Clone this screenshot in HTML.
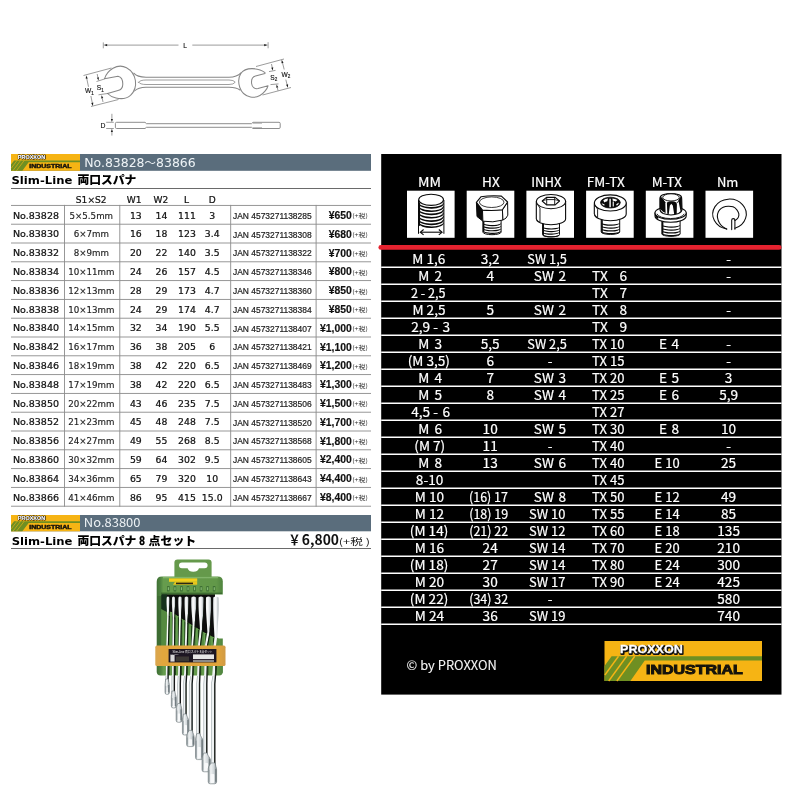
<!DOCTYPE html>
<html lang="ja"><head><meta charset="utf-8"><title>PROXXON Slim-Line 両口スパナ</title>
<style>html,body{margin:0;padding:0;background:#fff;width:800px;height:800px;overflow:hidden}svg{display:block;will-change:transform;filter:opacity(1)}text{white-space:pre}</style>
</head><body>
<svg width="800" height="800" viewBox="0 0 800 800">
<rect width="800" height="800" fill="#fff"/>
<g id="diagram">
<line x1="103.3" y1="42.4" x2="103.3" y2="48.3" stroke="#777" stroke-width="0.7"/>
<line x1="268.1" y1="42.2" x2="268.1" y2="48.3" stroke="#777" stroke-width="0.7"/>
<line x1="178.50" y1="45.10" x2="107.20" y2="45.10" stroke="#4a4a4a" stroke-width="0.55"/><path d="M103.60 45.10 L107.20 44.05 L107.20 46.15Z" fill="#1a1a1a"/>
<line x1="192.30" y1="45.10" x2="264.20" y2="45.10" stroke="#4a4a4a" stroke-width="0.55"/><path d="M267.80 45.10 L264.20 46.15 L264.20 44.05Z" fill="#1a1a1a"/>
<text x="185.2" y="47.5" font-size="6.6" font-family='"Liberation Sans", sans-serif' fill="#161616" stroke="#161616" stroke-width="0.15" text-anchor="middle">L</text>
<g fill="none" stroke="#878787" stroke-width="1.05" stroke-linejoin="round" stroke-linecap="round">
<path d="M104.5 78.8 C105.5 75.5 108.5 71 113 68.3 C117 66 122.5 65.6 126.5 67.8 C131 70.3 134.5 75 135.4 80.5 C136.2 86 134.5 91.5 130.5 95.3 C127 98.3 121 99.2 116 98 C112.5 97.2 109.5 95.6 107.5 93.5 L118 90.6 C120.5 90 122.8 87.5 122.8 84 C122.8 80 121 76.8 118 76.2 Z"/>
<path d="M265 72.6 C262 70.2 257 68.6 252 68.6 C247 68.6 243 70.2 240.8 73.5 C238.6 77 238.3 83 239.8 87.5 C241.5 92.5 245.5 96 250.5 97 C256 98 261.5 95.5 265 91.2 C266.5 89.5 267.6 87.5 268 85.8 L258 88.6 C254.5 89.3 252 87 251.6 83.5 C251.2 80 252.5 76.8 255.5 76 L265 73.6 Z"/>
<path d="M133.8 73.2 C136.5 76.5 140 77.2 146 77.2 H229 C234.5 77.1 238 76 241 72.8"/>
<path d="M134.5 91 C137 88.5 140 87.2 146 87.2 H229 C234 87.2 237.5 88 240 90"/>
<path d="M138.6 82.2 Q140 80 146 80 H229 Q233.8 80 235.2 82.2 Q233.8 84.5 229 84.5 H146 Q140 84.5 138.6 82.2 Z" stroke-width="0.8"/>
</g>
<line x1="83.5" y1="75.5" x2="111.5" y2="68" stroke="#4a4a4a" stroke-width="0.55"/>
<line x1="91" y1="106.5" x2="118.5" y2="99.5" stroke="#4a4a4a" stroke-width="0.55"/>
<line x1="88.50" y1="86.80" x2="86.78" y2="78.63" stroke="#4a4a4a" stroke-width="0.55"/><path d="M86.10 75.40 L87.81 78.41 L85.75 78.85Z" fill="#1a1a1a"/>
<line x1="90.90" y1="96.00" x2="92.25" y2="102.76" stroke="#4a4a4a" stroke-width="0.55"/><path d="M92.90 106.00 L91.22 102.97 L93.28 102.56Z" fill="#1a1a1a"/>
<line x1="96.5" y1="81.5" x2="104.5" y2="79" stroke="#4a4a4a" stroke-width="0.55"/>
<line x1="98.5" y1="94.8" x2="107.5" y2="93.5" stroke="#4a4a4a" stroke-width="0.55"/>
<line x1="97.20" y1="74.00" x2="97.90" y2="77.56" stroke="#4a4a4a" stroke-width="0.55"/><path d="M98.50 80.60 L96.87 77.76 L98.93 77.36Z" fill="#1a1a1a"/>
<line x1="103.00" y1="102.00" x2="102.23" y2="98.24" stroke="#4a4a4a" stroke-width="0.55"/><path d="M101.60 95.20 L103.25 98.02 L101.20 98.45Z" fill="#1a1a1a"/>
<text x="85" y="93.3" font-size="6.6" font-family='"Liberation Sans", sans-serif' fill="#161616" stroke="#161616" stroke-width="0.15">W<tspan font-size="4.6" dy="1.3">1</tspan></text>
<text x="96.8" y="90.4" font-size="6.6" font-family='"Liberation Sans", sans-serif' fill="#161616" stroke="#161616" stroke-width="0.15">S<tspan font-size="4.6" dy="1.3">1</tspan></text>
<line x1="256" y1="66.5" x2="284" y2="59" stroke="#4a4a4a" stroke-width="0.55"/>
<line x1="262.5" y1="95" x2="291" y2="87.5" stroke="#4a4a4a" stroke-width="0.55"/>
<line x1="284.20" y1="69.50" x2="282.52" y2="62.90" stroke="#4a4a4a" stroke-width="0.55"/><path d="M281.70 59.70 L283.53 62.64 L281.50 63.16Z" fill="#1a1a1a"/>
<line x1="285.80" y1="79.60" x2="287.08" y2="84.60" stroke="#4a4a4a" stroke-width="0.55"/><path d="M287.90 87.80 L286.06 84.86 L288.10 84.34Z" fill="#1a1a1a"/>
<line x1="269" y1="71.6" x2="275.5" y2="70.4" stroke="#4a4a4a" stroke-width="0.55"/>
<line x1="270.5" y1="84.6" x2="278.5" y2="83.9" stroke="#4a4a4a" stroke-width="0.55"/>
<line x1="271.50" y1="64.00" x2="272.20" y2="67.56" stroke="#4a4a4a" stroke-width="0.55"/><path d="M272.80 70.60 L271.17 67.76 L273.23 67.36Z" fill="#1a1a1a"/>
<line x1="278.00" y1="90.60" x2="277.28" y2="87.42" stroke="#4a4a4a" stroke-width="0.55"/><path d="M276.60 84.40 L278.31 87.19 L276.26 87.66Z" fill="#1a1a1a"/>
<text x="281.6" y="77" font-size="6.6" font-family='"Liberation Sans", sans-serif' fill="#161616" stroke="#161616" stroke-width="0.15">W<tspan font-size="4.6" dy="1.3">2</tspan></text>
<text x="270.3" y="79.6" font-size="6.6" font-family='"Liberation Sans", sans-serif' fill="#161616" stroke="#161616" stroke-width="0.15">S<tspan font-size="4.6" dy="1.3">2</tspan></text>
<g fill="none" stroke="#878787" stroke-width="0.95" stroke-linejoin="round">
<path d="M145 122.3 H116.6 Q115.4 122.3 115.4 123.5 V127.3 Q115.4 128.5 116.6 128.5 H145 L146.5 127.3 H251.5 L253 128.5 H279 Q280.2 128.5 280.2 127.3 V123.5 Q280.2 122.3 279 122.3 H253 L251.5 123.7 H146.5 Z"/>
<path d="M253 123.3 H262 M253 127.6 H262" stroke-width="0.6"/>
</g>
<line x1="106.2" y1="122.3" x2="113.8" y2="122.3" stroke="#4a4a4a" stroke-width="0.55"/>
<line x1="106.2" y1="128.5" x2="113.8" y2="128.5" stroke="#4a4a4a" stroke-width="0.55"/>
<line x1="111.90" y1="113.80" x2="111.90" y2="118.90" stroke="#4a4a4a" stroke-width="0.55"/><path d="M111.90 122.10 L110.85 118.90 L112.95 118.90Z" fill="#1a1a1a"/>
<line x1="111.90" y1="135.60" x2="111.90" y2="131.90" stroke="#4a4a4a" stroke-width="0.55"/><path d="M111.90 128.70 L112.95 131.90 L110.85 131.90Z" fill="#1a1a1a"/>
<text x="100.5" y="128.2" font-size="6.8" font-family='"Liberation Sans", sans-serif' fill="#161616" stroke="#161616" stroke-width="0.15">D</text>
</g>
<g id="left">
<rect x="11" y="154" width="360" height="16.8" fill="#5a6d7c"/>
<g transform="translate(11,154) scale(0.4381,0.4200)">
<rect x="0" y="0" width="157.5" height="40" fill="#f6b414"/>
<path d="M7.1 15.25 H157.5 V19.6 H40.25 L25.9 40 H0 V25.1 Z" fill="#6f8f22"/>
<path d="M14.0 15.25 L0.4 34.0" stroke="#f6b414" stroke-width="1.4" fill="none"/>
<path d="M22.1 15.25 L4.2 40" stroke="#f6b414" stroke-width="1.4" fill="none"/>
<path d="M30.25 15.25 L12.35 40" stroke="#f6b414" stroke-width="1.4" fill="none"/>
<text x="15.6" y="12.3" font-size="11.6" font-family='"Liberation Sans", sans-serif' font-weight="bold" fill="#111" stroke="#111" stroke-width="2.2" stroke-linejoin="round" textLength="62.6" lengthAdjust="spacingAndGlyphs" transform="translate(0.6,0.6)">PROXXON</text>
<text x="15.6" y="12.3" font-size="11.6" font-family='"Liberation Sans", sans-serif' font-weight="bold" fill="#fff" stroke="#fff" stroke-width="0.3" textLength="62.6" lengthAdjust="spacingAndGlyphs">PROXXON</text>
<text x="41.6" y="33.4" font-size="12.7" font-family='"Liberation Sans", sans-serif' font-weight="bold" fill="#15130c" stroke="#15130c" stroke-width="0.95" textLength="96.6" lengthAdjust="spacingAndGlyphs">INDUSTRIAL</text>
</g>
<text x="84.2" y="166.9" font-size="12.0" font-family='"DejaVu Sans", "Liberation Sans", sans-serif' fill="#eef3f6" textLength="111.5" lengthAdjust="spacingAndGlyphs">No.83828<tspan font-family='"Noto Sans CJK JP", sans-serif' font-size="11">～</tspan>83866</text>
<text x="11.5" y="183.9" font-size="11.3" font-family='"DejaVu Sans", "Liberation Sans", sans-serif' fill="#000" font-weight="bold" textLength="60.80" lengthAdjust="spacingAndGlyphs" >Slim-Line</text>
<text x="77.4" y="184.3" font-size="11.8" font-family='"Noto Sans CJK JP", sans-serif' fill="#000" font-weight="900" textLength="59.00" lengthAdjust="spacingAndGlyphs" >両口スパナ</text>
<rect x="11" y="188" width="360" height="1" fill="#6a6a6a"/>
<text transform="translate(91.2,202.7) scale(1.07,1)" font-size="8.5" font-family='"DejaVu Sans", "Liberation Sans", sans-serif' fill="#111" text-anchor="middle" stroke="#111" stroke-width="0.22" >S1×S2</text>
<text transform="translate(134.2,202.7) scale(1.07,1)" font-size="8.5" font-family='"DejaVu Sans", "Liberation Sans", sans-serif' fill="#111" text-anchor="middle" stroke="#111" stroke-width="0.22" >W1</text>
<text transform="translate(160.8,202.7) scale(1.07,1)" font-size="8.5" font-family='"DejaVu Sans", "Liberation Sans", sans-serif' fill="#111" text-anchor="middle" stroke="#111" stroke-width="0.22" >W2</text>
<text transform="translate(186.6,202.7) scale(1.07,1)" font-size="8.5" font-family='"DejaVu Sans", "Liberation Sans", sans-serif' fill="#111" text-anchor="middle" stroke="#111" stroke-width="0.22" >L</text>
<text transform="translate(212.2,202.7) scale(1.07,1)" font-size="8.5" font-family='"DejaVu Sans", "Liberation Sans", sans-serif' fill="#111" text-anchor="middle" stroke="#111" stroke-width="0.22" >D</text>
<rect x="11" y="204.95" width="360" height="0.9" fill="#8c8c8c"/>
<rect x="11" y="223.75" width="360" height="0.9" fill="#8c8c8c"/>
<rect x="11" y="242.55" width="360" height="0.9" fill="#8c8c8c"/>
<rect x="11" y="261.35" width="360" height="0.9" fill="#8c8c8c"/>
<rect x="11" y="280.15" width="360" height="0.9" fill="#8c8c8c"/>
<rect x="11" y="298.95" width="360" height="0.9" fill="#8c8c8c"/>
<rect x="11" y="317.75" width="360" height="0.9" fill="#8c8c8c"/>
<rect x="11" y="336.55" width="360" height="0.9" fill="#8c8c8c"/>
<rect x="11" y="355.35" width="360" height="0.9" fill="#8c8c8c"/>
<rect x="11" y="374.15" width="360" height="0.9" fill="#8c8c8c"/>
<rect x="11" y="392.95" width="360" height="0.9" fill="#8c8c8c"/>
<rect x="11" y="411.75" width="360" height="0.9" fill="#8c8c8c"/>
<rect x="11" y="430.55" width="360" height="0.9" fill="#8c8c8c"/>
<rect x="11" y="449.35" width="360" height="0.9" fill="#8c8c8c"/>
<rect x="11" y="468.15" width="360" height="0.9" fill="#8c8c8c"/>
<rect x="11" y="486.95" width="360" height="0.9" fill="#8c8c8c"/>
<rect x="11" y="505.75" width="360" height="0.9" fill="#8c8c8c"/>
<rect x="64.05" y="204.9" width="0.9" height="301.80" fill="#8c8c8c"/>
<rect x="119.35" y="204.9" width="0.9" height="301.80" fill="#8c8c8c"/>
<rect x="230.25" y="204.9" width="0.9" height="301.80" fill="#8c8c8c"/>
<rect x="315.65000000000003" y="204.9" width="0.9" height="301.80" fill="#8c8c8c"/>
<text x="13" y="218.6" font-size="8.7" font-family='"DejaVu Sans", "Liberation Sans", sans-serif' fill="#111" textLength="46.00" lengthAdjust="spacingAndGlyphs" stroke="#111" stroke-width="0.22" >No.83828</text>
<text transform="translate(91.3,218.6) scale(1.0,1)" font-size="8.7" font-family='"DejaVu Sans", "Liberation Sans", sans-serif' fill="#222" text-anchor="middle" stroke="#222" stroke-width="0.15" >5×5.5mm</text>
<text transform="translate(135.8,218.6) scale(1.07,1)" font-size="8.7" font-family='"DejaVu Sans", "Liberation Sans", sans-serif' fill="#111" text-anchor="middle" stroke="#111" stroke-width="0.22" >13</text>
<text transform="translate(161.5,218.6) scale(1.07,1)" font-size="8.7" font-family='"DejaVu Sans", "Liberation Sans", sans-serif' fill="#111" text-anchor="middle" stroke="#111" stroke-width="0.22" >14</text>
<text transform="translate(187.0,218.6) scale(1.07,1)" font-size="8.7" font-family='"DejaVu Sans", "Liberation Sans", sans-serif' fill="#111" text-anchor="middle" stroke="#111" stroke-width="0.22" >111</text>
<text transform="translate(212.2,218.6) scale(1.07,1)" font-size="8.7" font-family='"DejaVu Sans", "Liberation Sans", sans-serif' fill="#111" text-anchor="middle" stroke="#111" stroke-width="0.22" >3</text>
<text x="233" y="218.7" font-size="8.4" font-family='"Liberation Sans", sans-serif' fill="#1c1c1c" textLength="78.60" lengthAdjust="spacingAndGlyphs" stroke="#1c1c1c" stroke-width="0.2" >JAN 4573271138285</text>
<text x="351.8" y="219.0" font-size="10.4" font-family='"Liberation Sans", sans-serif' fill="#111" text-anchor="end" font-weight="bold" stroke="#111" stroke-width="0.15" >¥650</text>
<text x="352.2" y="218.4" font-size="6.0" font-family='"Noto Sans CJK JP", sans-serif' fill="#333" textLength="15.60" lengthAdjust="spacingAndGlyphs" >(+税)</text>
<text x="13" y="237.4" font-size="8.7" font-family='"DejaVu Sans", "Liberation Sans", sans-serif' fill="#111" textLength="46.00" lengthAdjust="spacingAndGlyphs" stroke="#111" stroke-width="0.22" >No.83830</text>
<text transform="translate(91.3,237.4) scale(1.0,1)" font-size="8.7" font-family='"DejaVu Sans", "Liberation Sans", sans-serif' fill="#222" text-anchor="middle" stroke="#222" stroke-width="0.15" >6×7mm</text>
<text transform="translate(135.8,237.4) scale(1.07,1)" font-size="8.7" font-family='"DejaVu Sans", "Liberation Sans", sans-serif' fill="#111" text-anchor="middle" stroke="#111" stroke-width="0.22" >16</text>
<text transform="translate(161.5,237.4) scale(1.07,1)" font-size="8.7" font-family='"DejaVu Sans", "Liberation Sans", sans-serif' fill="#111" text-anchor="middle" stroke="#111" stroke-width="0.22" >18</text>
<text transform="translate(187.0,237.4) scale(1.07,1)" font-size="8.7" font-family='"DejaVu Sans", "Liberation Sans", sans-serif' fill="#111" text-anchor="middle" stroke="#111" stroke-width="0.22" >123</text>
<text transform="translate(212.2,237.4) scale(1.07,1)" font-size="8.7" font-family='"DejaVu Sans", "Liberation Sans", sans-serif' fill="#111" text-anchor="middle" stroke="#111" stroke-width="0.22" >3.4</text>
<text x="233" y="237.5" font-size="8.4" font-family='"Liberation Sans", sans-serif' fill="#1c1c1c" textLength="78.60" lengthAdjust="spacingAndGlyphs" stroke="#1c1c1c" stroke-width="0.2" >JAN 4573271138308</text>
<text x="351.8" y="237.8" font-size="10.4" font-family='"Liberation Sans", sans-serif' fill="#111" text-anchor="end" font-weight="bold" stroke="#111" stroke-width="0.15" >¥680</text>
<text x="352.2" y="237.20000000000002" font-size="6.0" font-family='"Noto Sans CJK JP", sans-serif' fill="#333" textLength="15.60" lengthAdjust="spacingAndGlyphs" >(+税)</text>
<text x="13" y="256.2" font-size="8.7" font-family='"DejaVu Sans", "Liberation Sans", sans-serif' fill="#111" textLength="46.00" lengthAdjust="spacingAndGlyphs" stroke="#111" stroke-width="0.22" >No.83832</text>
<text transform="translate(91.3,256.2) scale(1.0,1)" font-size="8.7" font-family='"DejaVu Sans", "Liberation Sans", sans-serif' fill="#222" text-anchor="middle" stroke="#222" stroke-width="0.15" >8×9mm</text>
<text transform="translate(135.8,256.2) scale(1.07,1)" font-size="8.7" font-family='"DejaVu Sans", "Liberation Sans", sans-serif' fill="#111" text-anchor="middle" stroke="#111" stroke-width="0.22" >20</text>
<text transform="translate(161.5,256.2) scale(1.07,1)" font-size="8.7" font-family='"DejaVu Sans", "Liberation Sans", sans-serif' fill="#111" text-anchor="middle" stroke="#111" stroke-width="0.22" >22</text>
<text transform="translate(187.0,256.2) scale(1.07,1)" font-size="8.7" font-family='"DejaVu Sans", "Liberation Sans", sans-serif' fill="#111" text-anchor="middle" stroke="#111" stroke-width="0.22" >140</text>
<text transform="translate(212.2,256.2) scale(1.07,1)" font-size="8.7" font-family='"DejaVu Sans", "Liberation Sans", sans-serif' fill="#111" text-anchor="middle" stroke="#111" stroke-width="0.22" >3.5</text>
<text x="233" y="256.3" font-size="8.4" font-family='"Liberation Sans", sans-serif' fill="#1c1c1c" textLength="78.60" lengthAdjust="spacingAndGlyphs" stroke="#1c1c1c" stroke-width="0.2" >JAN 4573271138322</text>
<text x="351.8" y="256.59999999999997" font-size="10.4" font-family='"Liberation Sans", sans-serif' fill="#111" text-anchor="end" font-weight="bold" stroke="#111" stroke-width="0.15" >¥700</text>
<text x="352.2" y="256.0" font-size="6.0" font-family='"Noto Sans CJK JP", sans-serif' fill="#333" textLength="15.60" lengthAdjust="spacingAndGlyphs" >(+税)</text>
<text x="13" y="275.0" font-size="8.7" font-family='"DejaVu Sans", "Liberation Sans", sans-serif' fill="#111" textLength="46.00" lengthAdjust="spacingAndGlyphs" stroke="#111" stroke-width="0.22" >No.83834</text>
<text transform="translate(91.3,275.0) scale(1.0,1)" font-size="8.7" font-family='"DejaVu Sans", "Liberation Sans", sans-serif' fill="#222" text-anchor="middle" stroke="#222" stroke-width="0.15" >10×11mm</text>
<text transform="translate(135.8,275.0) scale(1.07,1)" font-size="8.7" font-family='"DejaVu Sans", "Liberation Sans", sans-serif' fill="#111" text-anchor="middle" stroke="#111" stroke-width="0.22" >24</text>
<text transform="translate(161.5,275.0) scale(1.07,1)" font-size="8.7" font-family='"DejaVu Sans", "Liberation Sans", sans-serif' fill="#111" text-anchor="middle" stroke="#111" stroke-width="0.22" >26</text>
<text transform="translate(187.0,275.0) scale(1.07,1)" font-size="8.7" font-family='"DejaVu Sans", "Liberation Sans", sans-serif' fill="#111" text-anchor="middle" stroke="#111" stroke-width="0.22" >157</text>
<text transform="translate(212.2,275.0) scale(1.07,1)" font-size="8.7" font-family='"DejaVu Sans", "Liberation Sans", sans-serif' fill="#111" text-anchor="middle" stroke="#111" stroke-width="0.22" >4.5</text>
<text x="233" y="275.1" font-size="8.4" font-family='"Liberation Sans", sans-serif' fill="#1c1c1c" textLength="78.60" lengthAdjust="spacingAndGlyphs" stroke="#1c1c1c" stroke-width="0.2" >JAN 4573271138346</text>
<text x="351.8" y="275.4" font-size="10.4" font-family='"Liberation Sans", sans-serif' fill="#111" text-anchor="end" font-weight="bold" stroke="#111" stroke-width="0.15" >¥800</text>
<text x="352.2" y="274.8" font-size="6.0" font-family='"Noto Sans CJK JP", sans-serif' fill="#333" textLength="15.60" lengthAdjust="spacingAndGlyphs" >(+税)</text>
<text x="13" y="293.8" font-size="8.7" font-family='"DejaVu Sans", "Liberation Sans", sans-serif' fill="#111" textLength="46.00" lengthAdjust="spacingAndGlyphs" stroke="#111" stroke-width="0.22" >No.83836</text>
<text transform="translate(91.3,293.8) scale(1.0,1)" font-size="8.7" font-family='"DejaVu Sans", "Liberation Sans", sans-serif' fill="#222" text-anchor="middle" stroke="#222" stroke-width="0.15" >12×13mm</text>
<text transform="translate(135.8,293.8) scale(1.07,1)" font-size="8.7" font-family='"DejaVu Sans", "Liberation Sans", sans-serif' fill="#111" text-anchor="middle" stroke="#111" stroke-width="0.22" >28</text>
<text transform="translate(161.5,293.8) scale(1.07,1)" font-size="8.7" font-family='"DejaVu Sans", "Liberation Sans", sans-serif' fill="#111" text-anchor="middle" stroke="#111" stroke-width="0.22" >29</text>
<text transform="translate(187.0,293.8) scale(1.07,1)" font-size="8.7" font-family='"DejaVu Sans", "Liberation Sans", sans-serif' fill="#111" text-anchor="middle" stroke="#111" stroke-width="0.22" >173</text>
<text transform="translate(212.2,293.8) scale(1.07,1)" font-size="8.7" font-family='"DejaVu Sans", "Liberation Sans", sans-serif' fill="#111" text-anchor="middle" stroke="#111" stroke-width="0.22" >4.7</text>
<text x="233" y="293.90000000000003" font-size="8.4" font-family='"Liberation Sans", sans-serif' fill="#1c1c1c" textLength="78.60" lengthAdjust="spacingAndGlyphs" stroke="#1c1c1c" stroke-width="0.2" >JAN 4573271138360</text>
<text x="351.8" y="294.2" font-size="10.4" font-family='"Liberation Sans", sans-serif' fill="#111" text-anchor="end" font-weight="bold" stroke="#111" stroke-width="0.15" >¥850</text>
<text x="352.2" y="293.6" font-size="6.0" font-family='"Noto Sans CJK JP", sans-serif' fill="#333" textLength="15.60" lengthAdjust="spacingAndGlyphs" >(+税)</text>
<text x="13" y="312.6" font-size="8.7" font-family='"DejaVu Sans", "Liberation Sans", sans-serif' fill="#111" textLength="46.00" lengthAdjust="spacingAndGlyphs" stroke="#111" stroke-width="0.22" >No.83838</text>
<text transform="translate(91.3,312.6) scale(1.0,1)" font-size="8.7" font-family='"DejaVu Sans", "Liberation Sans", sans-serif' fill="#222" text-anchor="middle" stroke="#222" stroke-width="0.15" >10×13mm</text>
<text transform="translate(135.8,312.6) scale(1.07,1)" font-size="8.7" font-family='"DejaVu Sans", "Liberation Sans", sans-serif' fill="#111" text-anchor="middle" stroke="#111" stroke-width="0.22" >24</text>
<text transform="translate(161.5,312.6) scale(1.07,1)" font-size="8.7" font-family='"DejaVu Sans", "Liberation Sans", sans-serif' fill="#111" text-anchor="middle" stroke="#111" stroke-width="0.22" >29</text>
<text transform="translate(187.0,312.6) scale(1.07,1)" font-size="8.7" font-family='"DejaVu Sans", "Liberation Sans", sans-serif' fill="#111" text-anchor="middle" stroke="#111" stroke-width="0.22" >174</text>
<text transform="translate(212.2,312.6) scale(1.07,1)" font-size="8.7" font-family='"DejaVu Sans", "Liberation Sans", sans-serif' fill="#111" text-anchor="middle" stroke="#111" stroke-width="0.22" >4.7</text>
<text x="233" y="312.70000000000005" font-size="8.4" font-family='"Liberation Sans", sans-serif' fill="#1c1c1c" textLength="78.60" lengthAdjust="spacingAndGlyphs" stroke="#1c1c1c" stroke-width="0.2" >JAN 4573271138384</text>
<text x="351.8" y="313.0" font-size="10.4" font-family='"Liberation Sans", sans-serif' fill="#111" text-anchor="end" font-weight="bold" stroke="#111" stroke-width="0.15" >¥850</text>
<text x="352.2" y="312.40000000000003" font-size="6.0" font-family='"Noto Sans CJK JP", sans-serif' fill="#333" textLength="15.60" lengthAdjust="spacingAndGlyphs" >(+税)</text>
<text x="13" y="331.4" font-size="8.7" font-family='"DejaVu Sans", "Liberation Sans", sans-serif' fill="#111" textLength="46.00" lengthAdjust="spacingAndGlyphs" stroke="#111" stroke-width="0.22" >No.83840</text>
<text transform="translate(91.3,331.4) scale(1.0,1)" font-size="8.7" font-family='"DejaVu Sans", "Liberation Sans", sans-serif' fill="#222" text-anchor="middle" stroke="#222" stroke-width="0.15" >14×15mm</text>
<text transform="translate(135.8,331.4) scale(1.07,1)" font-size="8.7" font-family='"DejaVu Sans", "Liberation Sans", sans-serif' fill="#111" text-anchor="middle" stroke="#111" stroke-width="0.22" >32</text>
<text transform="translate(161.5,331.4) scale(1.07,1)" font-size="8.7" font-family='"DejaVu Sans", "Liberation Sans", sans-serif' fill="#111" text-anchor="middle" stroke="#111" stroke-width="0.22" >34</text>
<text transform="translate(187.0,331.4) scale(1.07,1)" font-size="8.7" font-family='"DejaVu Sans", "Liberation Sans", sans-serif' fill="#111" text-anchor="middle" stroke="#111" stroke-width="0.22" >190</text>
<text transform="translate(212.2,331.4) scale(1.07,1)" font-size="8.7" font-family='"DejaVu Sans", "Liberation Sans", sans-serif' fill="#111" text-anchor="middle" stroke="#111" stroke-width="0.22" >5.5</text>
<text x="233" y="331.5" font-size="8.4" font-family='"Liberation Sans", sans-serif' fill="#1c1c1c" textLength="78.60" lengthAdjust="spacingAndGlyphs" stroke="#1c1c1c" stroke-width="0.2" >JAN 4573271138407</text>
<text x="351.8" y="331.79999999999995" font-size="10.4" font-family='"Liberation Sans", sans-serif' fill="#111" text-anchor="end" font-weight="bold" stroke="#111" stroke-width="0.15" >¥1,000</text>
<text x="352.2" y="331.2" font-size="6.0" font-family='"Noto Sans CJK JP", sans-serif' fill="#333" textLength="15.60" lengthAdjust="spacingAndGlyphs" >(+税)</text>
<text x="13" y="350.2" font-size="8.7" font-family='"DejaVu Sans", "Liberation Sans", sans-serif' fill="#111" textLength="46.00" lengthAdjust="spacingAndGlyphs" stroke="#111" stroke-width="0.22" >No.83842</text>
<text transform="translate(91.3,350.2) scale(1.0,1)" font-size="8.7" font-family='"DejaVu Sans", "Liberation Sans", sans-serif' fill="#222" text-anchor="middle" stroke="#222" stroke-width="0.15" >16×17mm</text>
<text transform="translate(135.8,350.2) scale(1.07,1)" font-size="8.7" font-family='"DejaVu Sans", "Liberation Sans", sans-serif' fill="#111" text-anchor="middle" stroke="#111" stroke-width="0.22" >36</text>
<text transform="translate(161.5,350.2) scale(1.07,1)" font-size="8.7" font-family='"DejaVu Sans", "Liberation Sans", sans-serif' fill="#111" text-anchor="middle" stroke="#111" stroke-width="0.22" >38</text>
<text transform="translate(187.0,350.2) scale(1.07,1)" font-size="8.7" font-family='"DejaVu Sans", "Liberation Sans", sans-serif' fill="#111" text-anchor="middle" stroke="#111" stroke-width="0.22" >205</text>
<text transform="translate(212.2,350.2) scale(1.07,1)" font-size="8.7" font-family='"DejaVu Sans", "Liberation Sans", sans-serif' fill="#111" text-anchor="middle" stroke="#111" stroke-width="0.22" >6</text>
<text x="233" y="350.3" font-size="8.4" font-family='"Liberation Sans", sans-serif' fill="#1c1c1c" textLength="78.60" lengthAdjust="spacingAndGlyphs" stroke="#1c1c1c" stroke-width="0.2" >JAN 4573271138421</text>
<text x="351.8" y="350.59999999999997" font-size="10.4" font-family='"Liberation Sans", sans-serif' fill="#111" text-anchor="end" font-weight="bold" stroke="#111" stroke-width="0.15" >¥1,100</text>
<text x="352.2" y="350.0" font-size="6.0" font-family='"Noto Sans CJK JP", sans-serif' fill="#333" textLength="15.60" lengthAdjust="spacingAndGlyphs" >(+税)</text>
<text x="13" y="369.0" font-size="8.7" font-family='"DejaVu Sans", "Liberation Sans", sans-serif' fill="#111" textLength="46.00" lengthAdjust="spacingAndGlyphs" stroke="#111" stroke-width="0.22" >No.83846</text>
<text transform="translate(91.3,369.0) scale(1.0,1)" font-size="8.7" font-family='"DejaVu Sans", "Liberation Sans", sans-serif' fill="#222" text-anchor="middle" stroke="#222" stroke-width="0.15" >18×19mm</text>
<text transform="translate(135.8,369.0) scale(1.07,1)" font-size="8.7" font-family='"DejaVu Sans", "Liberation Sans", sans-serif' fill="#111" text-anchor="middle" stroke="#111" stroke-width="0.22" >38</text>
<text transform="translate(161.5,369.0) scale(1.07,1)" font-size="8.7" font-family='"DejaVu Sans", "Liberation Sans", sans-serif' fill="#111" text-anchor="middle" stroke="#111" stroke-width="0.22" >42</text>
<text transform="translate(187.0,369.0) scale(1.07,1)" font-size="8.7" font-family='"DejaVu Sans", "Liberation Sans", sans-serif' fill="#111" text-anchor="middle" stroke="#111" stroke-width="0.22" >220</text>
<text transform="translate(212.2,369.0) scale(1.07,1)" font-size="8.7" font-family='"DejaVu Sans", "Liberation Sans", sans-serif' fill="#111" text-anchor="middle" stroke="#111" stroke-width="0.22" >6.5</text>
<text x="233" y="369.1" font-size="8.4" font-family='"Liberation Sans", sans-serif' fill="#1c1c1c" textLength="78.60" lengthAdjust="spacingAndGlyphs" stroke="#1c1c1c" stroke-width="0.2" >JAN 4573271138469</text>
<text x="351.8" y="369.4" font-size="10.4" font-family='"Liberation Sans", sans-serif' fill="#111" text-anchor="end" font-weight="bold" stroke="#111" stroke-width="0.15" >¥1,200</text>
<text x="352.2" y="368.8" font-size="6.0" font-family='"Noto Sans CJK JP", sans-serif' fill="#333" textLength="15.60" lengthAdjust="spacingAndGlyphs" >(+税)</text>
<text x="13" y="387.8" font-size="8.7" font-family='"DejaVu Sans", "Liberation Sans", sans-serif' fill="#111" textLength="46.00" lengthAdjust="spacingAndGlyphs" stroke="#111" stroke-width="0.22" >No.83848</text>
<text transform="translate(91.3,387.8) scale(1.0,1)" font-size="8.7" font-family='"DejaVu Sans", "Liberation Sans", sans-serif' fill="#222" text-anchor="middle" stroke="#222" stroke-width="0.15" >17×19mm</text>
<text transform="translate(135.8,387.8) scale(1.07,1)" font-size="8.7" font-family='"DejaVu Sans", "Liberation Sans", sans-serif' fill="#111" text-anchor="middle" stroke="#111" stroke-width="0.22" >38</text>
<text transform="translate(161.5,387.8) scale(1.07,1)" font-size="8.7" font-family='"DejaVu Sans", "Liberation Sans", sans-serif' fill="#111" text-anchor="middle" stroke="#111" stroke-width="0.22" >42</text>
<text transform="translate(187.0,387.8) scale(1.07,1)" font-size="8.7" font-family='"DejaVu Sans", "Liberation Sans", sans-serif' fill="#111" text-anchor="middle" stroke="#111" stroke-width="0.22" >220</text>
<text transform="translate(212.2,387.8) scale(1.07,1)" font-size="8.7" font-family='"DejaVu Sans", "Liberation Sans", sans-serif' fill="#111" text-anchor="middle" stroke="#111" stroke-width="0.22" >6.5</text>
<text x="233" y="387.90000000000003" font-size="8.4" font-family='"Liberation Sans", sans-serif' fill="#1c1c1c" textLength="78.60" lengthAdjust="spacingAndGlyphs" stroke="#1c1c1c" stroke-width="0.2" >JAN 4573271138483</text>
<text x="351.8" y="388.2" font-size="10.4" font-family='"Liberation Sans", sans-serif' fill="#111" text-anchor="end" font-weight="bold" stroke="#111" stroke-width="0.15" >¥1,300</text>
<text x="352.2" y="387.6" font-size="6.0" font-family='"Noto Sans CJK JP", sans-serif' fill="#333" textLength="15.60" lengthAdjust="spacingAndGlyphs" >(+税)</text>
<text x="13" y="406.6" font-size="8.7" font-family='"DejaVu Sans", "Liberation Sans", sans-serif' fill="#111" textLength="46.00" lengthAdjust="spacingAndGlyphs" stroke="#111" stroke-width="0.22" >No.83850</text>
<text transform="translate(91.3,406.6) scale(1.0,1)" font-size="8.7" font-family='"DejaVu Sans", "Liberation Sans", sans-serif' fill="#222" text-anchor="middle" stroke="#222" stroke-width="0.15" >20×22mm</text>
<text transform="translate(135.8,406.6) scale(1.07,1)" font-size="8.7" font-family='"DejaVu Sans", "Liberation Sans", sans-serif' fill="#111" text-anchor="middle" stroke="#111" stroke-width="0.22" >43</text>
<text transform="translate(161.5,406.6) scale(1.07,1)" font-size="8.7" font-family='"DejaVu Sans", "Liberation Sans", sans-serif' fill="#111" text-anchor="middle" stroke="#111" stroke-width="0.22" >46</text>
<text transform="translate(187.0,406.6) scale(1.07,1)" font-size="8.7" font-family='"DejaVu Sans", "Liberation Sans", sans-serif' fill="#111" text-anchor="middle" stroke="#111" stroke-width="0.22" >235</text>
<text transform="translate(212.2,406.6) scale(1.07,1)" font-size="8.7" font-family='"DejaVu Sans", "Liberation Sans", sans-serif' fill="#111" text-anchor="middle" stroke="#111" stroke-width="0.22" >7.5</text>
<text x="233" y="406.70000000000005" font-size="8.4" font-family='"Liberation Sans", sans-serif' fill="#1c1c1c" textLength="78.60" lengthAdjust="spacingAndGlyphs" stroke="#1c1c1c" stroke-width="0.2" >JAN 4573271138506</text>
<text x="351.8" y="407.0" font-size="10.4" font-family='"Liberation Sans", sans-serif' fill="#111" text-anchor="end" font-weight="bold" stroke="#111" stroke-width="0.15" >¥1,500</text>
<text x="352.2" y="406.40000000000003" font-size="6.0" font-family='"Noto Sans CJK JP", sans-serif' fill="#333" textLength="15.60" lengthAdjust="spacingAndGlyphs" >(+税)</text>
<text x="13" y="425.4" font-size="8.7" font-family='"DejaVu Sans", "Liberation Sans", sans-serif' fill="#111" textLength="46.00" lengthAdjust="spacingAndGlyphs" stroke="#111" stroke-width="0.22" >No.83852</text>
<text transform="translate(91.3,425.4) scale(1.0,1)" font-size="8.7" font-family='"DejaVu Sans", "Liberation Sans", sans-serif' fill="#222" text-anchor="middle" stroke="#222" stroke-width="0.15" >21×23mm</text>
<text transform="translate(135.8,425.4) scale(1.07,1)" font-size="8.7" font-family='"DejaVu Sans", "Liberation Sans", sans-serif' fill="#111" text-anchor="middle" stroke="#111" stroke-width="0.22" >45</text>
<text transform="translate(161.5,425.4) scale(1.07,1)" font-size="8.7" font-family='"DejaVu Sans", "Liberation Sans", sans-serif' fill="#111" text-anchor="middle" stroke="#111" stroke-width="0.22" >48</text>
<text transform="translate(187.0,425.4) scale(1.07,1)" font-size="8.7" font-family='"DejaVu Sans", "Liberation Sans", sans-serif' fill="#111" text-anchor="middle" stroke="#111" stroke-width="0.22" >248</text>
<text transform="translate(212.2,425.4) scale(1.07,1)" font-size="8.7" font-family='"DejaVu Sans", "Liberation Sans", sans-serif' fill="#111" text-anchor="middle" stroke="#111" stroke-width="0.22" >7.5</text>
<text x="233" y="425.5" font-size="8.4" font-family='"Liberation Sans", sans-serif' fill="#1c1c1c" textLength="78.60" lengthAdjust="spacingAndGlyphs" stroke="#1c1c1c" stroke-width="0.2" >JAN 4573271138520</text>
<text x="351.8" y="425.79999999999995" font-size="10.4" font-family='"Liberation Sans", sans-serif' fill="#111" text-anchor="end" font-weight="bold" stroke="#111" stroke-width="0.15" >¥1,700</text>
<text x="352.2" y="425.2" font-size="6.0" font-family='"Noto Sans CJK JP", sans-serif' fill="#333" textLength="15.60" lengthAdjust="spacingAndGlyphs" >(+税)</text>
<text x="13" y="444.20000000000005" font-size="8.7" font-family='"DejaVu Sans", "Liberation Sans", sans-serif' fill="#111" textLength="46.00" lengthAdjust="spacingAndGlyphs" stroke="#111" stroke-width="0.22" >No.83856</text>
<text transform="translate(91.3,444.20000000000005) scale(1.0,1)" font-size="8.7" font-family='"DejaVu Sans", "Liberation Sans", sans-serif' fill="#222" text-anchor="middle" stroke="#222" stroke-width="0.15" >24×27mm</text>
<text transform="translate(135.8,444.20000000000005) scale(1.07,1)" font-size="8.7" font-family='"DejaVu Sans", "Liberation Sans", sans-serif' fill="#111" text-anchor="middle" stroke="#111" stroke-width="0.22" >49</text>
<text transform="translate(161.5,444.20000000000005) scale(1.07,1)" font-size="8.7" font-family='"DejaVu Sans", "Liberation Sans", sans-serif' fill="#111" text-anchor="middle" stroke="#111" stroke-width="0.22" >55</text>
<text transform="translate(187.0,444.20000000000005) scale(1.07,1)" font-size="8.7" font-family='"DejaVu Sans", "Liberation Sans", sans-serif' fill="#111" text-anchor="middle" stroke="#111" stroke-width="0.22" >268</text>
<text transform="translate(212.2,444.20000000000005) scale(1.07,1)" font-size="8.7" font-family='"DejaVu Sans", "Liberation Sans", sans-serif' fill="#111" text-anchor="middle" stroke="#111" stroke-width="0.22" >8.5</text>
<text x="233" y="444.30000000000007" font-size="8.4" font-family='"Liberation Sans", sans-serif' fill="#1c1c1c" textLength="78.60" lengthAdjust="spacingAndGlyphs" stroke="#1c1c1c" stroke-width="0.2" >JAN 4573271138568</text>
<text x="351.8" y="444.6" font-size="10.4" font-family='"Liberation Sans", sans-serif' fill="#111" text-anchor="end" font-weight="bold" stroke="#111" stroke-width="0.15" >¥1,800</text>
<text x="352.2" y="444.00000000000006" font-size="6.0" font-family='"Noto Sans CJK JP", sans-serif' fill="#333" textLength="15.60" lengthAdjust="spacingAndGlyphs" >(+税)</text>
<text x="13" y="463.0" font-size="8.7" font-family='"DejaVu Sans", "Liberation Sans", sans-serif' fill="#111" textLength="46.00" lengthAdjust="spacingAndGlyphs" stroke="#111" stroke-width="0.22" >No.83860</text>
<text transform="translate(91.3,463.0) scale(1.0,1)" font-size="8.7" font-family='"DejaVu Sans", "Liberation Sans", sans-serif' fill="#222" text-anchor="middle" stroke="#222" stroke-width="0.15" >30×32mm</text>
<text transform="translate(135.8,463.0) scale(1.07,1)" font-size="8.7" font-family='"DejaVu Sans", "Liberation Sans", sans-serif' fill="#111" text-anchor="middle" stroke="#111" stroke-width="0.22" >59</text>
<text transform="translate(161.5,463.0) scale(1.07,1)" font-size="8.7" font-family='"DejaVu Sans", "Liberation Sans", sans-serif' fill="#111" text-anchor="middle" stroke="#111" stroke-width="0.22" >64</text>
<text transform="translate(187.0,463.0) scale(1.07,1)" font-size="8.7" font-family='"DejaVu Sans", "Liberation Sans", sans-serif' fill="#111" text-anchor="middle" stroke="#111" stroke-width="0.22" >302</text>
<text transform="translate(212.2,463.0) scale(1.07,1)" font-size="8.7" font-family='"DejaVu Sans", "Liberation Sans", sans-serif' fill="#111" text-anchor="middle" stroke="#111" stroke-width="0.22" >9.5</text>
<text x="233" y="463.1" font-size="8.4" font-family='"Liberation Sans", sans-serif' fill="#1c1c1c" textLength="78.60" lengthAdjust="spacingAndGlyphs" stroke="#1c1c1c" stroke-width="0.2" >JAN 4573271138605</text>
<text x="351.8" y="463.4" font-size="10.4" font-family='"Liberation Sans", sans-serif' fill="#111" text-anchor="end" font-weight="bold" stroke="#111" stroke-width="0.15" >¥2,400</text>
<text x="352.2" y="462.8" font-size="6.0" font-family='"Noto Sans CJK JP", sans-serif' fill="#333" textLength="15.60" lengthAdjust="spacingAndGlyphs" >(+税)</text>
<text x="13" y="481.79999999999995" font-size="8.7" font-family='"DejaVu Sans", "Liberation Sans", sans-serif' fill="#111" textLength="46.00" lengthAdjust="spacingAndGlyphs" stroke="#111" stroke-width="0.22" >No.83864</text>
<text transform="translate(91.3,481.79999999999995) scale(1.0,1)" font-size="8.7" font-family='"DejaVu Sans", "Liberation Sans", sans-serif' fill="#222" text-anchor="middle" stroke="#222" stroke-width="0.15" >34×36mm</text>
<text transform="translate(135.8,481.79999999999995) scale(1.07,1)" font-size="8.7" font-family='"DejaVu Sans", "Liberation Sans", sans-serif' fill="#111" text-anchor="middle" stroke="#111" stroke-width="0.22" >65</text>
<text transform="translate(161.5,481.79999999999995) scale(1.07,1)" font-size="8.7" font-family='"DejaVu Sans", "Liberation Sans", sans-serif' fill="#111" text-anchor="middle" stroke="#111" stroke-width="0.22" >79</text>
<text transform="translate(187.0,481.79999999999995) scale(1.07,1)" font-size="8.7" font-family='"DejaVu Sans", "Liberation Sans", sans-serif' fill="#111" text-anchor="middle" stroke="#111" stroke-width="0.22" >320</text>
<text transform="translate(212.2,481.79999999999995) scale(1.07,1)" font-size="8.7" font-family='"DejaVu Sans", "Liberation Sans", sans-serif' fill="#111" text-anchor="middle" stroke="#111" stroke-width="0.22" >10</text>
<text x="233" y="481.9" font-size="8.4" font-family='"Liberation Sans", sans-serif' fill="#1c1c1c" textLength="78.60" lengthAdjust="spacingAndGlyphs" stroke="#1c1c1c" stroke-width="0.2" >JAN 4573271138643</text>
<text x="351.8" y="482.19999999999993" font-size="10.4" font-family='"Liberation Sans", sans-serif' fill="#111" text-anchor="end" font-weight="bold" stroke="#111" stroke-width="0.15" >¥4,400</text>
<text x="352.2" y="481.59999999999997" font-size="6.0" font-family='"Noto Sans CJK JP", sans-serif' fill="#333" textLength="15.60" lengthAdjust="spacingAndGlyphs" >(+税)</text>
<text x="13" y="500.6" font-size="8.7" font-family='"DejaVu Sans", "Liberation Sans", sans-serif' fill="#111" textLength="46.00" lengthAdjust="spacingAndGlyphs" stroke="#111" stroke-width="0.22" >No.83866</text>
<text transform="translate(91.3,500.6) scale(1.0,1)" font-size="8.7" font-family='"DejaVu Sans", "Liberation Sans", sans-serif' fill="#222" text-anchor="middle" stroke="#222" stroke-width="0.15" >41×46mm</text>
<text transform="translate(135.8,500.6) scale(1.07,1)" font-size="8.7" font-family='"DejaVu Sans", "Liberation Sans", sans-serif' fill="#111" text-anchor="middle" stroke="#111" stroke-width="0.22" >86</text>
<text transform="translate(161.5,500.6) scale(1.07,1)" font-size="8.7" font-family='"DejaVu Sans", "Liberation Sans", sans-serif' fill="#111" text-anchor="middle" stroke="#111" stroke-width="0.22" >95</text>
<text transform="translate(187.0,500.6) scale(1.07,1)" font-size="8.7" font-family='"DejaVu Sans", "Liberation Sans", sans-serif' fill="#111" text-anchor="middle" stroke="#111" stroke-width="0.22" >415</text>
<text transform="translate(212.2,500.6) scale(1.07,1)" font-size="8.7" font-family='"DejaVu Sans", "Liberation Sans", sans-serif' fill="#111" text-anchor="middle" stroke="#111" stroke-width="0.22" >15.0</text>
<text x="233" y="500.70000000000005" font-size="8.4" font-family='"Liberation Sans", sans-serif' fill="#1c1c1c" textLength="78.60" lengthAdjust="spacingAndGlyphs" stroke="#1c1c1c" stroke-width="0.2" >JAN 4573271138667</text>
<text x="351.8" y="501.0" font-size="10.4" font-family='"Liberation Sans", sans-serif' fill="#111" text-anchor="end" font-weight="bold" stroke="#111" stroke-width="0.15" >¥8,400</text>
<text x="352.2" y="500.40000000000003" font-size="6.0" font-family='"Noto Sans CJK JP", sans-serif' fill="#333" textLength="15.60" lengthAdjust="spacingAndGlyphs" >(+税)</text>
<rect x="11" y="515" width="360" height="16.3" fill="#5a6d7c"/>
<g transform="translate(11,515) scale(0.4381,0.4075)">
<rect x="0" y="0" width="157.5" height="40" fill="#f6b414"/>
<path d="M7.1 15.25 H157.5 V19.6 H40.25 L25.9 40 H0 V25.1 Z" fill="#6f8f22"/>
<path d="M14.0 15.25 L0.4 34.0" stroke="#f6b414" stroke-width="1.4" fill="none"/>
<path d="M22.1 15.25 L4.2 40" stroke="#f6b414" stroke-width="1.4" fill="none"/>
<path d="M30.25 15.25 L12.35 40" stroke="#f6b414" stroke-width="1.4" fill="none"/>
<text x="15.6" y="12.3" font-size="11.6" font-family='"Liberation Sans", sans-serif' font-weight="bold" fill="#111" stroke="#111" stroke-width="2.2" stroke-linejoin="round" textLength="62.6" lengthAdjust="spacingAndGlyphs" transform="translate(0.6,0.6)">PROXXON</text>
<text x="15.6" y="12.3" font-size="11.6" font-family='"Liberation Sans", sans-serif' font-weight="bold" fill="#fff" stroke="#fff" stroke-width="0.3" textLength="62.6" lengthAdjust="spacingAndGlyphs">PROXXON</text>
<text x="41.6" y="33.4" font-size="12.7" font-family='"Liberation Sans", sans-serif' font-weight="bold" fill="#15130c" stroke="#15130c" stroke-width="0.95" textLength="96.6" lengthAdjust="spacingAndGlyphs">INDUSTRIAL</text>
</g>
<text x="83.8" y="527.1" font-size="12.2" font-family='"Noto Sans CJK JP", "Liberation Sans", sans-serif' fill="#eef3f6" textLength="56.70" lengthAdjust="spacingAndGlyphs" >No.83800</text>
<text x="11.7" y="544.5" font-size="11.3" font-family='"DejaVu Sans", "Liberation Sans", sans-serif' fill="#000" font-weight="bold" textLength="60.80" lengthAdjust="spacingAndGlyphs" >Slim-Line</text>
<text x="77.4" y="545.0" font-size="11.8" font-family='"Noto Sans CJK JP", sans-serif' fill="#000" font-weight="900" textLength="59.00" lengthAdjust="spacingAndGlyphs" >両口スパナ</text>
<text x="139.2" y="544.6" font-size="12.0" font-family='"Liberation Sans", sans-serif' fill="#000" font-weight="bold" textLength="5.60" lengthAdjust="spacingAndGlyphs" stroke="#000" stroke-width="0.3" >8</text>
<text x="148.6" y="545.0" font-size="11.8" font-family='"Noto Sans CJK JP", sans-serif' fill="#000" font-weight="900" textLength="47.60" lengthAdjust="spacingAndGlyphs" >点セット</text>
<text x="288.6" y="545.3" font-size="13.2" font-family='"Noto Sans CJK JP", sans-serif' fill="#111" font-weight="700" textLength="12.00" lengthAdjust="spacingAndGlyphs" >￥</text>
<text x="301.8" y="545.1" font-size="13.8" font-family='"Noto Sans CJK JP", "Liberation Sans", sans-serif' fill="#111" font-weight="700" textLength="37.20" lengthAdjust="spacingAndGlyphs" >6,800</text>
<text x="338.8" y="544.8" font-size="9.2" font-family='"Noto Sans CJK JP", sans-serif' fill="#222" font-weight="400" textLength="31.30" lengthAdjust="spacingAndGlyphs" >(+税 )</text>
<rect x="11" y="548" width="360" height="1" fill="#6a6a6a"/>
</g>
<g id="photo">
<defs>
<linearGradient id="gBody" x1="0" y1="0" x2="1" y2="0"><stop offset="0" stop-color="#3f7034"/><stop offset="0.06" stop-color="#4f8440"/><stop offset="0.1" stop-color="#669c4e"/><stop offset="0.9" stop-color="#629849"/><stop offset="1" stop-color="#4f843e"/></linearGradient>
<linearGradient id="gBand" x1="0" y1="0" x2="1" y2="0"><stop offset="0" stop-color="#d9a650"/><stop offset="0.1" stop-color="#e2a63e"/><stop offset="0.9" stop-color="#e0a43b"/><stop offset="1" stop-color="#d09a45"/></linearGradient>
<linearGradient id="gSteel" x1="0" y1="0" x2="1" y2="0"><stop offset="0" stop-color="#c9d0d2"/><stop offset="0.35" stop-color="#ffffff"/><stop offset="0.7" stop-color="#e6eaec"/><stop offset="1" stop-color="#9aa3a6"/></linearGradient>
<linearGradient id="gHead" x1="0" y1="0" x2="1" y2="0"><stop offset="0" stop-color="#8f989b"/><stop offset="0.3" stop-color="#f0f3f4"/><stop offset="0.7" stop-color="#cfd5d8"/><stop offset="1" stop-color="#737d80"/></linearGradient>
<filter id="fSoft" x="-5%" y="-5%" width="110%" height="110%"><feGaussianBlur stdDeviation="0.45"/></filter>
</defs>
<g filter="url(#fSoft)">
<path d="M177.5 559.6 H208.5 Q211.6 559.6 211.6 562.6 V580 H174.4 V562.6 Q174.4 559.6 177.5 559.6Z" fill="#65994c"/>
<path d="M182 562.4 H204.6 Q207.6 562.4 207.6 565.3 Q207.6 568.2 204.6 568.2 H199 Q197.8 571.8 193.3 571.8 Q188.8 571.8 187.6 568.2 H182 Q179 568.2 179 565.3 Q179 562.4 182 562.4Z" fill="#fff"/>
<path d="M162 576.6 H217.8 Q222.8 576.6 222.8 581.6 V671.5 Q222.8 675.4 219 675.4 H160.6 Q156.7 675.4 156.7 671.5 V582 Q156.7 576.6 162 576.6Z" fill="url(#gBody)"/>
<rect x="163" y="576.9" width="55" height="1.4" fill="#8fbf78" opacity="0.7"/>
<rect x="161" y="592.6" width="61" height="1.6" fill="#3e6c30"/>
<path d="M162 594.4 H215 V638 L205 633 L190 624 L176 615 L162 607Z" fill="#0b0f0a"/>
<path d="M215 594.4 H224 V638.5 H219 L215 637Z" fill="#fff"/>
<path d="M162 607 L176 615 L190 624 L205 633 L219 640 V646 H162Z" fill="#548a40"/>
<path d="M157 596 H161.2 V646 H157Z" fill="#3c6c32"/><path d="M161.2 594.4 H167 V612 L161.2 609Z" fill="#16301a"/>
<rect x="170.3" y="612.0" width="1.6" height="34.0" fill="#6aa555"/>
<rect x="171.9" y="613.0" width="1.2" height="33.0" fill="#1f3a18"/>
<rect x="176.3" y="616.2" width="1.6" height="29.8" fill="#6aa555"/>
<rect x="177.9" y="617.2" width="1.2" height="28.8" fill="#1f3a18"/>
<rect x="182.8" y="620.4" width="1.6" height="25.6" fill="#6aa555"/>
<rect x="184.4" y="621.4" width="1.2" height="24.6" fill="#1f3a18"/>
<rect x="189.3" y="624.6" width="1.6" height="21.4" fill="#6aa555"/>
<rect x="190.9" y="625.6" width="1.2" height="20.4" fill="#1f3a18"/>
<rect x="196.3" y="628.8" width="1.6" height="17.2" fill="#6aa555"/>
<rect x="197.9" y="629.8" width="1.2" height="16.2" fill="#1f3a18"/>
<rect x="203.8" y="633.0" width="1.6" height="13.0" fill="#6aa555"/>
<rect x="205.4" y="634.0" width="1.2" height="12.0" fill="#1f3a18"/>
<rect x="211.3" y="637.2" width="1.6" height="8.8" fill="#6aa555"/>
<rect x="212.9" y="638.2" width="1.2" height="7.8" fill="#1f3a18"/>
<rect x="169" y="578.4" width="28.2" height="3.4" fill="#f2cf1a"/>
<path d="M175 581.8 H197.2 V584.8 H173Z" fill="#e9c51c"/>
<rect x="176" y="582.6" width="17" height="1.6" fill="#2a2a12"/>
<rect x="167.0" y="586" width="2.6" height="5.4" rx="0.5" fill="#3f7034"/>
<rect x="167.8" y="587.2" width="1.1" height="3" fill="#8abd78"/>
<rect x="173.6" y="586" width="2.6" height="5.4" rx="0.5" fill="#3f7034"/>
<rect x="174.4" y="587.2" width="1.1" height="3" fill="#8abd78"/>
<rect x="180.1" y="586" width="2.6" height="5.4" rx="0.5" fill="#3f7034"/>
<rect x="180.9" y="587.2" width="1.1" height="3" fill="#8abd78"/>
<rect x="186.7" y="586" width="2.6" height="5.4" rx="0.5" fill="#3f7034"/>
<rect x="187.5" y="587.2" width="1.1" height="3" fill="#8abd78"/>
<rect x="193.2" y="586" width="2.6" height="5.4" rx="0.5" fill="#3f7034"/>
<rect x="194.0" y="587.2" width="1.1" height="3" fill="#8abd78"/>
<rect x="199.8" y="586" width="2.6" height="5.4" rx="0.5" fill="#3f7034"/>
<rect x="200.6" y="587.2" width="1.1" height="3" fill="#8abd78"/>
<rect x="206.3" y="586" width="2.6" height="5.4" rx="0.5" fill="#3f7034"/>
<rect x="207.1" y="587.2" width="1.1" height="3" fill="#8abd78"/>
<rect x="212.8" y="586" width="2.6" height="5.4" rx="0.5" fill="#3f7034"/>
<rect x="213.7" y="587.2" width="1.1" height="3" fill="#8abd78"/>
<path d="M166.65 597.5 Q168.00 595.6 169.35 597.5 C169.95 603.5 169.20 606.0 168.80 616.0 L167.80 646 H166.20 L167.20 616.0 C166.90 606.0 166.15 603.5 166.65 597.5Z" fill="url(#gSteel)"/>
<path d="M168.80 616.0 L167.80 646 H168.90 L169.90 616.0Z" fill="#0f1a10"/>
<path d="M169.35 598 C170.75 603.5 170.40 607.0 169.40 618.0 L168.80 616.0 C169.20 606.0 169.95 603.5 169.35 598Z" fill="#101410"/>
<path d="M172.05 597.5 Q173.50 595.6 174.95 597.5 C175.55 604.2 174.75 607.5 174.35 617.5 L173.95 646 H172.25 L172.65 617.5 C172.35 607.5 171.55 604.2 172.05 597.5Z" fill="url(#gSteel)"/>
<path d="M174.35 617.5 L173.95 646 H175.05 L175.45 617.5Z" fill="#0f1a10"/>
<path d="M174.95 598 C176.35 604.2 175.95 608.5 174.95 619.5 L174.35 617.5 C174.75 607.5 175.55 604.2 174.95 598Z" fill="#101410"/>
<path d="M178.35 597.5 Q180.00 595.6 181.65 597.5 C182.25 605.5 181.30 610.0 180.90 620.0 L180.30 646 H178.50 L179.10 620.0 C178.80 610.0 177.85 605.5 178.35 597.5Z" fill="url(#gSteel)"/>
<path d="M180.90 620.0 L180.30 646 H181.40 L182.00 620.0Z" fill="#0f1a10"/>
<path d="M181.65 598 C183.05 605.5 182.50 611.0 181.50 622.0 L180.90 620.0 C181.30 610.0 182.25 605.5 181.65 598Z" fill="#101410"/>
<path d="M184.65 597.5 Q186.50 595.6 188.35 597.5 C188.95 607.0 187.85 613.0 187.45 623.0 L186.75 646 H184.85 L185.55 623.0 C185.25 613.0 184.15 607.0 184.65 597.5Z" fill="url(#gSteel)"/>
<path d="M187.45 623.0 L186.75 646 H187.85 L188.55 623.0Z" fill="#0f1a10"/>
<path d="M188.35 598 C189.75 607.0 189.05 614.0 188.05 625.0 L187.45 623.0 C187.85 613.0 188.95 607.0 188.35 598Z" fill="#101410"/>
<path d="M191.30 597.5 Q193.70 595.6 196.10 597.5 C196.70 608.5 195.10 616.0 194.70 626.0 L193.20 646 H191.20 L192.70 626.0 C192.40 616.0 190.80 608.5 191.30 597.5Z" fill="url(#gSteel)"/>
<path d="M194.70 626.0 L193.20 646 H194.30 L195.80 626.0Z" fill="#0f1a10"/>
<path d="M196.10 598 C197.50 608.5 196.30 617.0 195.30 628.0 L194.70 626.0 C195.10 616.0 196.70 608.5 196.10 598Z" fill="#101410"/>
<path d="M198.50 597.5 Q201.00 595.6 203.50 597.5 C204.10 610.0 202.45 619.0 202.05 629.0 L199.85 646 H197.75 L199.95 629.0 C199.65 619.0 198.00 610.0 198.50 597.5Z" fill="url(#gSteel)"/>
<path d="M202.05 629.0 L199.85 646 H200.95 L203.15 629.0Z" fill="#0f1a10"/>
<path d="M203.50 598 C204.90 610.0 203.65 620.0 202.65 631.0 L202.05 629.0 C202.45 619.0 204.10 610.0 203.50 598Z" fill="#101410"/>
<path d="M206.00 597.5 Q208.50 595.6 211.00 597.5 C211.60 611.5 210.00 622.0 209.60 632.0 L206.90 646 H204.70 L207.40 632.0 C207.10 622.0 205.50 611.5 206.00 597.5Z" fill="url(#gSteel)"/>
<path d="M209.60 632.0 L206.90 646 H208.00 L210.70 632.0Z" fill="#0f1a10"/>
<path d="M211.00 598 C212.40 611.5 211.20 623.0 210.20 634.0 L209.60 632.0 C210.00 622.0 211.60 611.5 211.00 598Z" fill="#101410"/>
<path d="M213.20 597.5 Q215.80 595.6 218.40 597.5 C219.00 614.5 217.50 628.0 217.10 638.0 L215.90 646 H213.30 L214.50 638.0 C214.20 628.0 212.70 614.5 213.20 597.5Z" fill="url(#gSteel)"/>
</g>
<g filter="url(#fSoft)">
<rect x="157" y="664" width="65.6" height="9" fill="url(#gBody)"/>
<path d="M166.00 664 L168.00 664 L167.70 684 V684.0 H165.70 V684Z" fill="#eef1f2"/>
<path d="M167.60 664 L169.00 664 L168.70 684 V683.0 H167.30 V684Z" fill="#121816"/>
<path d="M165.50 676 L166.20 676 L165.90 684 V682.0 H165.20 V684Z" fill="#aab3b6"/>
<rect x="168.30" y="664" width="1.3" height="11" fill="#22401a"/>
<path d="M165.70 679.0 C165.40 682.0 165.00 683.5 165.00 686.0 V692.4 Q165.00 694.4 167.00 694.4 H167.40 Q169.40 694.4 169.40 692.4 V686.0 C169.40 683.5 168.70 682.0 168.40 679.0Z" fill="url(#gHead)" stroke="#707a7d" stroke-width="0.6"/>
<rect x="166.23" y="687.6" width="1.94" height="6.2" rx="0.8" fill="#f8f9fa"/>
<rect x="167.90" y="685.0" width="1.3" height="7.4" fill="#6c767a" opacity="0.85"/>
<rect x="165.30" y="686.0" width="0.9" height="6.4" fill="#8a9497" opacity="0.8"/>
<path d="M172.05 664 L174.15 664 L174.05 684 V696.0 H171.95 V684Z" fill="#eef1f2"/>
<path d="M173.75 664 L175.15 664 L175.05 684 V695.0 H173.65 V684Z" fill="#121816"/>
<path d="M171.55 676 L172.25 676 L172.15 684 V694.0 H171.45 V684Z" fill="#aab3b6"/>
<rect x="174.65" y="664" width="1.3" height="11" fill="#22401a"/>
<path d="M171.95 691.0 C171.70 694.0 171.30 695.5 171.30 698.0 V706.0 Q171.30 708.0 173.30 708.0 H174.30 Q176.30 708.0 176.30 706.0 V698.0 C176.30 695.5 175.05 694.0 174.75 691.0Z" fill="url(#gHead)" stroke="#707a7d" stroke-width="0.6"/>
<rect x="172.70" y="700.3" width="2.20" height="7.0" rx="0.8" fill="#f8f9fa"/>
<rect x="174.80" y="697.0" width="1.3" height="9.0" fill="#6c767a" opacity="0.85"/>
<rect x="171.60" y="698.0" width="0.9" height="8.0" fill="#8a9497" opacity="0.8"/>
<path d="M178.30 664 L180.50 664 L180.00 684 V708.5 H177.80 V684Z" fill="#eef1f2"/>
<path d="M180.10 664 L181.50 664 L181.00 684 V707.5 H179.60 V684Z" fill="#121816"/>
<path d="M177.80 676 L178.50 676 L178.00 684 V706.5 H177.30 V684Z" fill="#aab3b6"/>
<rect x="180.60" y="664" width="1.3" height="11" fill="#22401a"/>
<path d="M177.80 703.5 C176.50 706.5 176.10 708.0 176.10 710.5 V720.3 Q176.10 722.3 178.10 722.3 H179.90 Q181.90 722.3 181.90 720.3 V710.5 C181.90 708.0 181.00 706.5 180.70 703.5Z" fill="url(#gHead)" stroke="#707a7d" stroke-width="0.6"/>
<rect x="177.72" y="713.6" width="2.55" height="7.9" rx="0.8" fill="#f8f9fa"/>
<rect x="180.40" y="709.5" width="1.3" height="10.8" fill="#6c767a" opacity="0.85"/>
<rect x="176.40" y="710.5" width="0.9" height="9.8" fill="#8a9497" opacity="0.8"/>
<path d="M184.65 664 L186.95 664 L185.75 684 V719.0 H183.45 V684Z" fill="#eef1f2"/>
<path d="M186.55 664 L187.95 664 L186.75 684 V718.0 H185.35 V684Z" fill="#121816"/>
<path d="M184.15 676 L184.85 676 L183.65 684 V717.0 H182.95 V684Z" fill="#aab3b6"/>
<rect x="186.35" y="664" width="1.3" height="11" fill="#22401a"/>
<path d="M183.45 714.0 C182.80 717.0 182.40 718.5 182.40 721.0 V733.0 Q182.40 735.0 184.40 735.0 H186.80 Q188.80 735.0 188.80 733.0 V721.0 C188.80 718.5 186.75 717.0 186.45 714.0Z" fill="url(#gHead)" stroke="#707a7d" stroke-width="0.6"/>
<rect x="184.19" y="725.1" width="2.82" height="9.0" rx="0.8" fill="#f8f9fa"/>
<rect x="187.30" y="720.0" width="1.3" height="13.0" fill="#6c767a" opacity="0.85"/>
<rect x="182.70" y="721.0" width="0.9" height="12.0" fill="#8a9497" opacity="0.8"/>
<path d="M191.00 664 L193.40 664 L191.80 684 V735.4 H189.40 V684Z" fill="#eef1f2"/>
<path d="M193.00 664 L194.40 664 L192.80 684 V734.4 H191.40 V684Z" fill="#121816"/>
<path d="M190.50 676 L191.20 676 L189.60 684 V733.4 H188.90 V684Z" fill="#aab3b6"/>
<rect x="192.40" y="664" width="1.3" height="11" fill="#22401a"/>
<path d="M189.40 730.4 C187.00 733.4 186.60 734.9 186.60 737.4 V744.6 Q186.60 746.6 188.60 746.6 H192.20 Q194.20 746.6 194.20 744.6 V737.4 C194.20 734.9 192.80 733.4 192.50 730.4Z" fill="url(#gHead)" stroke="#707a7d" stroke-width="0.6"/>
<rect x="188.73" y="739.3" width="3.34" height="6.6" rx="0.8" fill="#f8f9fa"/>
<rect x="192.70" y="736.4" width="1.3" height="8.2" fill="#6c767a" opacity="0.85"/>
<rect x="186.90" y="737.4" width="0.9" height="7.2" fill="#8a9497" opacity="0.8"/>
<path d="M197.55 664 L200.05 664 L199.25 684 V738.6 H196.75 V684Z" fill="#eef1f2"/>
<path d="M199.65 664 L201.05 664 L200.25 684 V737.6 H198.85 V684Z" fill="#121816"/>
<path d="M197.05 676 L197.75 676 L196.95 684 V736.6 H196.25 V684Z" fill="#aab3b6"/>
<rect x="199.85" y="664" width="1.3" height="11" fill="#22401a"/>
<path d="M196.75 733.6 C195.90 736.6 195.50 738.1 195.50 740.6 V757.6 Q195.50 759.6 197.50 759.6 H200.90 Q202.90 759.6 202.90 757.6 V740.6 C202.90 738.1 200.25 736.6 199.95 733.6Z" fill="url(#gHead)" stroke="#707a7d" stroke-width="0.6"/>
<rect x="197.57" y="747.0" width="3.26" height="11.5" rx="0.8" fill="#f8f9fa"/>
<rect x="201.40" y="739.6" width="1.3" height="18.0" fill="#6c767a" opacity="0.85"/>
<rect x="195.80" y="740.6" width="0.9" height="17.0" fill="#8a9497" opacity="0.8"/>
<path d="M204.50 664 L207.10 664 L206.50 684 V758.0 H203.90 V684Z" fill="#eef1f2"/>
<path d="M206.70 664 L208.10 664 L207.50 684 V757.0 H206.10 V684Z" fill="#121816"/>
<path d="M204.00 676 L204.70 676 L204.10 684 V756.0 H203.40 V684Z" fill="#aab3b6"/>
<rect x="207.10" y="664" width="1.3" height="11" fill="#22401a"/>
<path d="M203.90 753.0 C202.40 756.0 202.00 757.5 202.00 760.0 V769.8 Q202.00 771.8 204.00 771.8 H208.40 Q210.40 771.8 210.40 769.8 V760.0 C210.40 757.5 207.50 756.0 207.20 753.0Z" fill="url(#gHead)" stroke="#707a7d" stroke-width="0.6"/>
<rect x="204.35" y="763.1" width="3.70" height="7.9" rx="0.8" fill="#f8f9fa"/>
<rect x="208.90" y="759.0" width="1.3" height="10.8" fill="#6c767a" opacity="0.85"/>
<rect x="202.30" y="760.0" width="0.9" height="9.8" fill="#8a9497" opacity="0.8"/>
<path d="M213.10 664 L216.10 664 L214.50 684 V767.9 H211.50 V684Z" fill="#eef1f2"/>
<path d="M215.70 664 L217.10 664 L215.50 684 V766.9 H214.10 V684Z" fill="#121816"/>
<path d="M212.60 676 L213.30 676 L211.70 684 V765.9 H211.00 V684Z" fill="#aab3b6"/>
<rect x="215.10" y="664" width="1.3" height="11" fill="#22401a"/>
<path d="M211.50 762.9 C208.60 765.9 208.20 767.4 208.20 769.9 V781.8 Q208.20 783.8 210.20 783.8 H214.60 Q216.60 783.8 216.60 781.8 V769.9 C216.60 767.4 215.50 765.9 215.20 762.9Z" fill="url(#gHead)" stroke="#707a7d" stroke-width="0.6"/>
<rect x="210.55" y="774.0" width="3.70" height="8.9" rx="0.8" fill="#f8f9fa"/>
<rect x="215.10" y="768.9" width="1.3" height="12.9" fill="#6c767a" opacity="0.85"/>
<rect x="208.50" y="769.9" width="0.9" height="11.9" fill="#8a9497" opacity="0.8"/>
</g>
<g filter="url(#fSoft)">
<rect x="155.3" y="645.6" width="70.2" height="20.4" rx="1.6" fill="url(#gBand)"/>
<rect x="168.6" y="649" width="47.8" height="13.4" fill="#1d1420"/>
<rect x="170.4" y="655" width="4.2" height="6.6" fill="#d9d9d9"/>
<rect x="176" y="656.4" width="13" height="5" fill="#3b3835"/>
<rect x="193" y="654.4" width="21" height="4.6" fill="#e6e6e6"/>
<rect x="193" y="659.8" width="21" height="2.2" fill="#8a8a8a"/>
</g>
<text x="172.6" y="652.8" font-size="2.9" font-family='"Liberation Sans", "Noto Sans CJK JP", sans-serif' fill="#e8e8e8" textLength="40" lengthAdjust="spacingAndGlyphs">Slim-Line 両口スパナ 8点セット</text>
<text x="170.6" y="654.9" font-size="1.8" font-family='"Liberation Sans", "Noto Sans CJK JP", sans-serif' fill="#c8c8c8">No.83800</text>
</g>
<g id="panel">
<rect x="381.2" y="154" width="400.3" height="540.6" fill="#000"/>
<rect x="378.4" y="245.0" width="403.1" height="4.8" rx="2.4" fill="#e5222f"/>
<text x="429.5" y="187.3" font-size="13.0" font-family='"Noto Sans CJK JP", "Liberation Sans", sans-serif' fill="#fff" text-anchor="middle" textLength="23.00" lengthAdjust="spacingAndGlyphs" stroke="#fff" stroke-width="0.2" >MM</text>
<text x="490.9" y="187.3" font-size="13.0" font-family='"Noto Sans CJK JP", "Liberation Sans", sans-serif' fill="#fff" text-anchor="middle" textLength="17.60" lengthAdjust="spacingAndGlyphs" stroke="#fff" stroke-width="0.2" >HX</text>
<text x="546.4" y="187.3" font-size="13.0" font-family='"Noto Sans CJK JP", "Liberation Sans", sans-serif' fill="#fff" text-anchor="middle" textLength="30.20" lengthAdjust="spacingAndGlyphs" stroke="#fff" stroke-width="0.2" >INHX</text>
<text x="605.8" y="187.3" font-size="13.0" font-family='"Noto Sans CJK JP", "Liberation Sans", sans-serif' fill="#fff" text-anchor="middle" textLength="38.00" lengthAdjust="spacingAndGlyphs" stroke="#fff" stroke-width="0.2" >FM-TX</text>
<text x="666.8" y="187.3" font-size="13.0" font-family='"Noto Sans CJK JP", "Liberation Sans", sans-serif' fill="#fff" text-anchor="middle" textLength="30.20" lengthAdjust="spacingAndGlyphs" stroke="#fff" stroke-width="0.2" >M-TX</text>
<text x="727.6" y="187.3" font-size="13.0" font-family='"Noto Sans CJK JP", "Liberation Sans", sans-serif' fill="#fff" text-anchor="middle" textLength="21.40" lengthAdjust="spacingAndGlyphs" stroke="#fff" stroke-width="0.2" >Nm</text>
<rect x="407" y="190.7" width="47.6" height="47.1" fill="#fff"/>
<rect x="466.7" y="190.7" width="47.6" height="47.1" fill="#fff"/>
<rect x="526.4" y="190.7" width="47.6" height="47.1" fill="#fff"/>
<rect x="586.1" y="190.7" width="47.6" height="47.1" fill="#fff"/>
<rect x="645.8" y="190.7" width="47.6" height="47.1" fill="#fff"/>
<rect x="705.5" y="190.7" width="47.6" height="47.1" fill="#fff"/>
<g transform="translate(407,190.6)">
<ellipse cx="24.1" cy="9.2" rx="12.4" ry="5.6" fill="#fff" stroke="#0a0a0a" stroke-width="1.1"/>
<path d="M11.5 9.4 V43.2 M36.9 9.4 V43.2" stroke="#0a0a0a" stroke-width="1" fill="none"/>
<path d="M11.4 9 V36 L13.1 35 V13 Z" fill="#0a0a0a"/>
<path d="M11.4 12.90 A12.75 5.6 0 0 0 36.9 12.30 A12.75 4.9 0 0 1 11.6 11.10Z" fill="#0a0a0a"/>
<path d="M11.4 16.20 A12.75 5.6 0 0 0 36.9 15.60 A12.75 4.9 0 0 1 11.6 14.40Z" fill="#0a0a0a"/>
<path d="M11.4 19.40 A12.75 5.6 0 0 0 36.9 18.80 A12.75 4.9 0 0 1 11.6 17.60Z" fill="#0a0a0a"/>
<path d="M11.4 22.70 A12.75 5.6 0 0 0 36.9 22.10 A12.75 4.9 0 0 1 11.6 20.90Z" fill="#0a0a0a"/>
<path d="M11.4 26.10 A12.75 5.6 0 0 0 36.9 25.50 A12.75 4.9 0 0 1 11.6 24.30Z" fill="#0a0a0a"/>
<path d="M11.4 29.40 A12.75 5.6 0 0 0 36.9 28.80 A12.75 4.9 0 0 1 11.6 27.60Z" fill="#0a0a0a"/>
<path d="M11.4 32.20 A12.75 5.6 0 0 0 36.9 31.60 A12.75 4.9 0 0 1 11.6 30.40Z" fill="#0a0a0a"/>
<path d="M36.9 12.30 L34.6 14.30" stroke="#0a0a0a" stroke-width="0.7"/>
<path d="M36.9 15.60 L34.6 17.60" stroke="#0a0a0a" stroke-width="0.7"/>
<path d="M36.9 18.80 L34.6 20.80" stroke="#0a0a0a" stroke-width="0.7"/>
<path d="M36.9 22.10 L34.6 24.10" stroke="#0a0a0a" stroke-width="0.7"/>
<path d="M36.9 25.50 L34.6 27.50" stroke="#0a0a0a" stroke-width="0.7"/>
<path d="M36.9 28.80 L34.6 30.80" stroke="#0a0a0a" stroke-width="0.7"/>
<path d="M14 41.6 H34.4" stroke="#0a0a0a" stroke-width="1.1" fill="none"/>
<path d="M16.6 38.9 L13.3 41.6 L16.6 44.3 M31.8 38.9 L35.1 41.6 L31.8 44.3" stroke="#0a0a0a" stroke-width="1.1" fill="none" stroke-linejoin="miter"/>
</g>
<g transform="translate(466.8,190.6)">
<path d="M16.1 29 V41.5 A9.1 2.6 0 0 0 34.3 41.5 V29Z" fill="#fff" stroke="#0a0a0a" stroke-width="1"/>
<path d="M16.1 33.20 A9.1 2.6 0 0 0 34.3 32.70 A9.1 2.1 0 0 1 16.2 31.80Z" fill="#0a0a0a"/>
<path d="M16.1 35.80 A9.1 2.6 0 0 0 34.3 35.30 A9.1 2.1 0 0 1 16.2 34.40Z" fill="#0a0a0a"/>
<path d="M16.1 38.40 A9.1 2.6 0 0 0 34.3 37.90 A9.1 2.1 0 0 1 16.2 37.00Z" fill="#0a0a0a"/>
<path d="M16.1 41.00 A9.1 2.6 0 0 0 34.3 40.50 A9.1 2.1 0 0 1 16.2 39.60Z" fill="#0a0a0a"/>
<path d="M16.1 29 V41 L17.6 41.6 V30Z" fill="#0a0a0a"/>
<path d="M9.6 11.7 L15.7 19.5 L16.1 30.6 L10.2 25.9Z" fill="#0a0a0a" stroke="#0a0a0a" stroke-width="1" stroke-linejoin="round"/>
<path d="M15.7 19.5 L35.6 19.2 L36.2 29.4 Q26 32.4 16.1 30.6Z" fill="#fff" stroke="#0a0a0a" stroke-width="1" stroke-linejoin="round"/>
<path d="M35.6 19.2 L40.8 11.4 L41 24.6 Q39.8 28 36.2 29.4Z" fill="#fff" stroke="#0a0a0a" stroke-width="1" stroke-linejoin="round"/>
<path d="M9.6 11.7 L14.1 6.2 Q24 4.6 34.6 5.5 L40.8 11.4 L35.6 19.2 Q26 20.4 15.7 19.5Z" fill="#fff" stroke="#0a0a0a" stroke-width="1.1" stroke-linejoin="round"/>
<ellipse cx="24.9" cy="11.6" rx="12.3" ry="5.3" fill="none" stroke="#0a0a0a" stroke-width="0.8"/>
</g>
<g transform="translate(526.3,190.6)">
<path d="M16.3 32 V44 A8.45 2.3 0 0 0 33.2 44 V32Z" fill="#fff" stroke="#0a0a0a" stroke-width="1"/>
<path d="M16.3 36.80 A8.45 2.4 0 0 0 33.2 36.30 A8.45 1.9 0 0 1 16.4 35.40Z" fill="#0a0a0a"/>
<path d="M16.3 39.40 A8.45 2.4 0 0 0 33.2 38.90 A8.45 1.9 0 0 1 16.4 38.00Z" fill="#0a0a0a"/>
<path d="M16.3 42.00 A8.45 2.4 0 0 0 33.2 41.50 A8.45 1.9 0 0 1 16.4 40.60Z" fill="#0a0a0a"/>
<path d="M16.3 44.60 A8.45 2.4 0 0 0 33.2 44.10 A8.45 1.9 0 0 1 16.4 43.20Z" fill="#0a0a0a"/>
<path d="M16.3 32 V44 L17.7 44.6 V33Z" fill="#0a0a0a"/>
<path d="M10.1 11 V28.5 A14.6 5.6 0 0 0 39.3 28.5 V11Z" fill="#fff" stroke="#0a0a0a" stroke-width="1.1"/>
<path d="M10.1 12 V28.5 Q11.5 31 13.7 31.6 V17.5Z" fill="#fff" stroke="#0a0a0a" stroke-width="0.9"/>
<ellipse cx="24.7" cy="11" rx="14.6" ry="7.1" fill="#fff" stroke="#0a0a0a" stroke-width="1.1"/>
<path d="M15.9 10.4 L20.2 6.8 H28.9 L33.2 10.4 L28.9 14.3 H20.2Z" fill="#fff" stroke="#0a0a0a" stroke-width="1.1" stroke-linejoin="round"/>
<path d="M20.4 7 V14.2 M28.4 7 V14.2 M20.4 9 H28.4" fill="none" stroke="#0a0a0a" stroke-width="0.9"/>
<path d="M15.9 10.4 L20.3 9 M33.2 10.4 L28.5 9" fill="none" stroke="#0a0a0a" stroke-width="0.7"/>
</g>
<g transform="translate(585.8,190.6)">
<path d="M15.4 28 V41.4 A9.25 2.4 0 0 0 33.9 41.4 V28Z" fill="#fff" stroke="#0a0a0a" stroke-width="1"/>
<path d="M15.4 32.90 A9.25 2.5 0 0 0 33.9 32.40 A9.25 2.0 0 0 1 15.5 31.40Z" fill="#0a0a0a"/>
<path d="M15.4 35.80 A9.25 2.5 0 0 0 33.9 35.30 A9.25 2.0 0 0 1 15.5 34.30Z" fill="#0a0a0a"/>
<path d="M15.4 38.70 A9.25 2.5 0 0 0 33.9 38.20 A9.25 2.0 0 0 1 15.5 37.20Z" fill="#0a0a0a"/>
<path d="M15.4 41.30 A9.25 2.5 0 0 0 33.9 40.80 A9.25 2.0 0 0 1 15.5 39.80Z" fill="#0a0a0a"/>
<path d="M15.4 28 V41 L17 41.8 V29Z" fill="#0a0a0a"/>
<path d="M8.6 12.4 V23.4 A15.9 6.8 0 0 0 40.4 23.4 V12.4Z" fill="#fff" stroke="#0a0a0a" stroke-width="1.1"/>
<path d="M8.6 13.5 V23.4 Q9.8 26.2 11.8 27 V18.6Z" fill="#fff" stroke="#0a0a0a" stroke-width="0.9"/>
<ellipse cx="24.5" cy="12.35" rx="15.9" ry="8.1" fill="#fff" stroke="#0a0a0a" stroke-width="1.1"/>
<ellipse cx="24.6" cy="12" rx="9.9" ry="5.4" fill="#0a0a0a" stroke="#0a0a0a" stroke-width="0.8"/>
<path d="M17.5 9.6 Q19.6 8.2 22.2 8 L21.5 10.6 Q19.5 10.8 18.5 12Z" fill="#fff"/>
<path d="M26.6 8 Q29.4 8.2 31.6 9.4 L30 11 Q28.6 10.2 27 10.2Z" fill="#fff"/>
<path d="M23.6 8.2 H25 V16.6 H23.6Z M26.9 11 H28 V16 H26.9Z" fill="#fff"/>
<path d="M15.8 12.6 Q16.6 14.4 18.4 15.2 L18.8 13.8Z M33.2 12 Q33 14 31 15.2 L30.4 13.6Z" fill="#fff"/>
</g>
<g transform="translate(645.6,190.6)">
<path d="M16.3 29 V43.4 A9.1 2.3 0 0 0 34.5 43.4 V29Z" fill="#fff" stroke="#0a0a0a" stroke-width="1"/>
<path d="M16.3 34.80 A9.1 2.5 0 0 0 34.5 34.30 A9.1 2.0 0 0 1 16.4 33.30Z" fill="#0a0a0a"/>
<path d="M16.3 37.80 A9.1 2.5 0 0 0 34.5 37.30 A9.1 2.0 0 0 1 16.4 36.30Z" fill="#0a0a0a"/>
<path d="M16.3 40.70 A9.1 2.5 0 0 0 34.5 40.20 A9.1 2.0 0 0 1 16.4 39.20Z" fill="#0a0a0a"/>
<path d="M16.3 43.30 A9.1 2.5 0 0 0 34.5 42.80 A9.1 2.0 0 0 1 16.4 41.80Z" fill="#0a0a0a"/>
<path d="M16.3 29 V43 L17.8 43.8 V30Z" fill="#0a0a0a"/>
<path d="M9.4 22.4 V25.4 A15.6 6.3 0 0 0 40.6 25.4 V22.4Z" fill="#fff" stroke="#0a0a0a" stroke-width="1.1"/>
<ellipse cx="25" cy="22.4" rx="15.6" ry="6.3" fill="#fff" stroke="#0a0a0a" stroke-width="1.1"/>
<path d="M11.4 23.2 A13.7 5.4 0 0 0 38.6 23.2" fill="none" stroke="#0a0a0a" stroke-width="0.9"/>
<path d="M9.4 23 V25.4 Q10.4 27.6 12.6 28.6 V26.6Z" fill="#0a0a0a"/>
<path d="M14.3 8.1 C14.3 5.5 16 4.6 17.2 4.2 Q25.4 1.9 33.5 4.2 C35 4.7 36.1 5.5 36.1 8.1 L36.4 18.5 Q36.4 21.5 33 23 Q25.4 25.8 17.6 23 Q14.3 21.5 14.3 18.5 Z" fill="#fff" stroke="#0a0a0a" stroke-width="1.1" stroke-linejoin="round"/>
<path d="M14.3 7.6 L15.4 5.4 L16.4 7.6 L18.2 9.2 L19.7 12.4 L20.0 22.4 L17.4 21.2 L14.3 18.2 Z" fill="#0a0a0a"/>
<path d="M21.3 12 Q25.6 9.6 30.9 11.8 L31.3 14 L31.1 23.3 L28.6 23.6 L27.2 15 L25.7 13.2 L24.3 15 L23.1 23.6 L21.7 23.2 Z" fill="#0a0a0a"/>
<path d="M36.1 7.6 L35.2 5.6 L34.2 7.6 L33 9.4 L33.3 12.4 L34.3 17.4 L35 20.8 L36.4 18 Z" fill="#0a0a0a"/>
<path d="M16.4 7.6 Q17 9.6 19.9 12.4 M34.2 7.6 Q33.6 10 31.8 12.2" fill="none" stroke="#0a0a0a" stroke-width="0.9"/>
<ellipse cx="25.4" cy="6.8" rx="8.3" ry="3.6" fill="#fff" stroke="#0a0a0a" stroke-width="0.9"/>
</g>
<g transform="translate(705,190.6)" fill="none" stroke="#0a0a0a" stroke-width="1.05" stroke-linecap="round" stroke-linejoin="round">
<path d="M29.9 37.7 A16.75 15 0 1 0 21.8 38.3"/>
<path d="M21.80 38.50 C21.10 38.10 18.85 37.15 17.60 36.10 C16.35 35.05 15.15 33.72 14.30 32.20 C13.45 30.68 12.77 28.52 12.50 27.00 C12.23 25.48 12.35 24.40 12.70 23.10 C13.05 21.80 13.68 20.28 14.60 19.20 C15.52 18.12 16.78 17.20 18.20 16.60 C19.62 16.00 21.47 15.66 23.10 15.60 C24.73 15.54 26.53 15.65 28.00 16.25 C29.47 16.85 30.93 18.06 31.90 19.20 C32.87 20.34 33.53 21.92 33.80 23.10 C34.07 24.28 33.82 25.38 33.50 26.30 C33.18 27.22 32.50 28.00 31.90 28.60 C31.30 29.20 30.23 29.68 29.90 29.90"/>
<path d="M26.7 39 V29.3 Q26.7 28 28.3 28 Q29.9 28 29.9 29.3 V38.6"/>
</g>
<rect x="381.2" y="266.50" width="400.3" height="1.5" fill="#fff"/>
<rect x="381.2" y="283.50" width="400.3" height="1.5" fill="#fff"/>
<rect x="381.2" y="300.50" width="400.3" height="1.5" fill="#fff"/>
<rect x="381.2" y="317.50" width="400.3" height="1.5" fill="#fff"/>
<rect x="381.2" y="334.50" width="400.3" height="1.5" fill="#fff"/>
<rect x="381.2" y="351.50" width="400.3" height="1.5" fill="#fff"/>
<rect x="381.2" y="368.50" width="400.3" height="1.5" fill="#fff"/>
<rect x="381.2" y="385.50" width="400.3" height="1.5" fill="#fff"/>
<rect x="381.2" y="402.50" width="400.3" height="1.5" fill="#fff"/>
<rect x="381.2" y="419.50" width="400.3" height="1.5" fill="#fff"/>
<rect x="381.2" y="436.50" width="400.3" height="1.5" fill="#fff"/>
<rect x="381.2" y="453.50" width="400.3" height="1.5" fill="#fff"/>
<rect x="381.2" y="470.50" width="400.3" height="1.5" fill="#fff"/>
<rect x="381.2" y="487.50" width="400.3" height="1.5" fill="#fff"/>
<rect x="381.2" y="504.50" width="400.3" height="1.5" fill="#fff"/>
<rect x="381.2" y="521.50" width="400.3" height="1.5" fill="#fff"/>
<rect x="381.2" y="538.50" width="400.3" height="1.5" fill="#fff"/>
<rect x="381.2" y="555.50" width="400.3" height="1.5" fill="#fff"/>
<rect x="381.2" y="572.50" width="400.3" height="1.5" fill="#fff"/>
<rect x="381.2" y="589.50" width="400.3" height="1.5" fill="#fff"/>
<rect x="381.2" y="606.50" width="400.3" height="1.5" fill="#fff"/>
<rect x="381.2" y="623.50" width="400.3" height="1.5" fill="#fff"/>
<text transform="translate(428.8,263.90) scale(1.035,1)" font-size="13.2" font-family='"Noto Sans CJK JP", "Liberation Sans", sans-serif' fill="#fff" text-anchor="middle" stroke="#fff" stroke-width="0.2" >M 1,6</text>
<text transform="translate(490.2,263.90) scale(1.035,1)" font-size="13.2" font-family='"Noto Sans CJK JP", "Liberation Sans", sans-serif' fill="#fff" text-anchor="middle" stroke="#fff" stroke-width="0.2" >3,2</text>
<text transform="translate(527.3,263.90) scale(1.035,1)" font-size="13.2" font-family='"Noto Sans CJK JP", "Liberation Sans", sans-serif' fill="#fff" textLength="38.16" lengthAdjust="spacingAndGlyphs" stroke="#fff" stroke-width="0.2" >SW 1,5</text>
<text transform="translate(728.6,263.90) scale(1.035,1)" font-size="13.2" font-family='"Noto Sans CJK JP", "Liberation Sans", sans-serif' fill="#fff" text-anchor="middle" stroke="#fff" stroke-width="0.2" >-</text>
<text transform="translate(418.3,280.90) scale(1.035,1)" font-size="13.2" font-family='"Noto Sans CJK JP", "Liberation Sans", sans-serif' fill="#fff" stroke="#fff" stroke-width="0.2" >M</text>
<text transform="translate(442.2,280.90) scale(1.035,1)" font-size="13.2" font-family='"Noto Sans CJK JP", "Liberation Sans", sans-serif' fill="#fff" text-anchor="end" stroke="#fff" stroke-width="0.2" >2</text>
<text transform="translate(490.2,280.90) scale(1.035,1)" font-size="13.2" font-family='"Noto Sans CJK JP", "Liberation Sans", sans-serif' fill="#fff" text-anchor="middle" stroke="#fff" stroke-width="0.2" >4</text>
<text transform="translate(533.75,280.90) scale(1.035,1)" font-size="13.2" font-family='"Noto Sans CJK JP", "Liberation Sans", sans-serif' fill="#fff" stroke="#fff" stroke-width="0.2" >SW</text>
<text transform="translate(566.2,280.90) scale(1.035,1)" font-size="13.2" font-family='"Noto Sans CJK JP", "Liberation Sans", sans-serif' fill="#fff" text-anchor="end" stroke="#fff" stroke-width="0.2" >2</text>
<text transform="translate(592,280.90) scale(1.035,1)" font-size="13.2" font-family='"Noto Sans CJK JP", "Liberation Sans", sans-serif' fill="#fff" stroke="#fff" stroke-width="0.2" >TX</text>
<text transform="translate(627,280.90) scale(1.035,1)" font-size="13.2" font-family='"Noto Sans CJK JP", "Liberation Sans", sans-serif' fill="#fff" text-anchor="end" stroke="#fff" stroke-width="0.2" >6</text>
<text transform="translate(728.6,280.90) scale(1.035,1)" font-size="13.2" font-family='"Noto Sans CJK JP", "Liberation Sans", sans-serif' fill="#fff" text-anchor="middle" stroke="#fff" stroke-width="0.2" >-</text>
<text transform="translate(428.2,297.90) scale(1.035,1)" font-size="13.2" font-family='"Noto Sans CJK JP", "Liberation Sans", sans-serif' fill="#fff" text-anchor="middle" textLength="33.43" lengthAdjust="spacingAndGlyphs" stroke="#fff" stroke-width="0.2" >2 - 2,5</text>
<text transform="translate(592,297.90) scale(1.035,1)" font-size="13.2" font-family='"Noto Sans CJK JP", "Liberation Sans", sans-serif' fill="#fff" stroke="#fff" stroke-width="0.2" >TX</text>
<text transform="translate(627,297.90) scale(1.035,1)" font-size="13.2" font-family='"Noto Sans CJK JP", "Liberation Sans", sans-serif' fill="#fff" text-anchor="end" stroke="#fff" stroke-width="0.2" >7</text>
<text transform="translate(429,314.90) scale(1.035,1)" font-size="13.2" font-family='"Noto Sans CJK JP", "Liberation Sans", sans-serif' fill="#fff" text-anchor="middle" stroke="#fff" stroke-width="0.2" >M 2,5</text>
<text transform="translate(490.2,314.90) scale(1.035,1)" font-size="13.2" font-family='"Noto Sans CJK JP", "Liberation Sans", sans-serif' fill="#fff" text-anchor="middle" stroke="#fff" stroke-width="0.2" >5</text>
<text transform="translate(533.75,314.90) scale(1.035,1)" font-size="13.2" font-family='"Noto Sans CJK JP", "Liberation Sans", sans-serif' fill="#fff" stroke="#fff" stroke-width="0.2" >SW</text>
<text transform="translate(566.2,314.90) scale(1.035,1)" font-size="13.2" font-family='"Noto Sans CJK JP", "Liberation Sans", sans-serif' fill="#fff" text-anchor="end" stroke="#fff" stroke-width="0.2" >2</text>
<text transform="translate(592,314.90) scale(1.035,1)" font-size="13.2" font-family='"Noto Sans CJK JP", "Liberation Sans", sans-serif' fill="#fff" stroke="#fff" stroke-width="0.2" >TX</text>
<text transform="translate(627,314.90) scale(1.035,1)" font-size="13.2" font-family='"Noto Sans CJK JP", "Liberation Sans", sans-serif' fill="#fff" text-anchor="end" stroke="#fff" stroke-width="0.2" >8</text>
<text transform="translate(728.6,314.90) scale(1.035,1)" font-size="13.2" font-family='"Noto Sans CJK JP", "Liberation Sans", sans-serif' fill="#fff" text-anchor="middle" stroke="#fff" stroke-width="0.2" >-</text>
<text transform="translate(411.25,331.90) scale(1.035,1)" font-size="13.2" font-family='"Noto Sans CJK JP", "Liberation Sans", sans-serif' fill="#fff" stroke="#fff" stroke-width="0.2" >2,9 -</text>
<text transform="translate(450,331.90) scale(1.035,1)" font-size="13.2" font-family='"Noto Sans CJK JP", "Liberation Sans", sans-serif' fill="#fff" text-anchor="end" stroke="#fff" stroke-width="0.2" >3</text>
<text transform="translate(592,331.90) scale(1.035,1)" font-size="13.2" font-family='"Noto Sans CJK JP", "Liberation Sans", sans-serif' fill="#fff" stroke="#fff" stroke-width="0.2" >TX</text>
<text transform="translate(627,331.90) scale(1.035,1)" font-size="13.2" font-family='"Noto Sans CJK JP", "Liberation Sans", sans-serif' fill="#fff" text-anchor="end" stroke="#fff" stroke-width="0.2" >9</text>
<text transform="translate(418.3,348.90) scale(1.035,1)" font-size="13.2" font-family='"Noto Sans CJK JP", "Liberation Sans", sans-serif' fill="#fff" stroke="#fff" stroke-width="0.2" >M</text>
<text transform="translate(442.2,348.90) scale(1.035,1)" font-size="13.2" font-family='"Noto Sans CJK JP", "Liberation Sans", sans-serif' fill="#fff" text-anchor="end" stroke="#fff" stroke-width="0.2" >3</text>
<text transform="translate(490.2,348.90) scale(1.035,1)" font-size="13.2" font-family='"Noto Sans CJK JP", "Liberation Sans", sans-serif' fill="#fff" text-anchor="middle" stroke="#fff" stroke-width="0.2" >5,5</text>
<text transform="translate(527.3,348.90) scale(1.035,1)" font-size="13.2" font-family='"Noto Sans CJK JP", "Liberation Sans", sans-serif' fill="#fff" textLength="38.16" lengthAdjust="spacingAndGlyphs" stroke="#fff" stroke-width="0.2" >SW 2,5</text>
<text transform="translate(592,348.90) scale(1.035,1)" font-size="13.2" font-family='"Noto Sans CJK JP", "Liberation Sans", sans-serif' fill="#fff" textLength="31.30" lengthAdjust="spacingAndGlyphs" stroke="#fff" stroke-width="0.2" >TX 10</text>
<text transform="translate(659,348.90) scale(1.035,1)" font-size="13.2" font-family='"Noto Sans CJK JP", "Liberation Sans", sans-serif' fill="#fff" stroke="#fff" stroke-width="0.2" >E</text>
<text transform="translate(679,348.90) scale(1.035,1)" font-size="13.2" font-family='"Noto Sans CJK JP", "Liberation Sans", sans-serif' fill="#fff" text-anchor="end" stroke="#fff" stroke-width="0.2" >4</text>
<text transform="translate(728.6,348.90) scale(1.035,1)" font-size="13.2" font-family='"Noto Sans CJK JP", "Liberation Sans", sans-serif' fill="#fff" text-anchor="middle" stroke="#fff" stroke-width="0.2" >-</text>
<text transform="translate(428.8,365.90) scale(1.035,1)" font-size="13.2" font-family='"Noto Sans CJK JP", "Liberation Sans", sans-serif' fill="#fff" text-anchor="middle" stroke="#fff" stroke-width="0.2" >(M 3,5)</text>
<text transform="translate(490.2,365.90) scale(1.035,1)" font-size="13.2" font-family='"Noto Sans CJK JP", "Liberation Sans", sans-serif' fill="#fff" text-anchor="middle" stroke="#fff" stroke-width="0.2" >6</text>
<text transform="translate(550,365.90) scale(1.035,1)" font-size="13.2" font-family='"Noto Sans CJK JP", "Liberation Sans", sans-serif' fill="#fff" text-anchor="middle" stroke="#fff" stroke-width="0.2" >-</text>
<text transform="translate(592,365.90) scale(1.035,1)" font-size="13.2" font-family='"Noto Sans CJK JP", "Liberation Sans", sans-serif' fill="#fff" textLength="31.30" lengthAdjust="spacingAndGlyphs" stroke="#fff" stroke-width="0.2" >TX 15</text>
<text transform="translate(728.6,365.90) scale(1.035,1)" font-size="13.2" font-family='"Noto Sans CJK JP", "Liberation Sans", sans-serif' fill="#fff" text-anchor="middle" stroke="#fff" stroke-width="0.2" >-</text>
<text transform="translate(418.3,382.90) scale(1.035,1)" font-size="13.2" font-family='"Noto Sans CJK JP", "Liberation Sans", sans-serif' fill="#fff" stroke="#fff" stroke-width="0.2" >M</text>
<text transform="translate(442.2,382.90) scale(1.035,1)" font-size="13.2" font-family='"Noto Sans CJK JP", "Liberation Sans", sans-serif' fill="#fff" text-anchor="end" stroke="#fff" stroke-width="0.2" >4</text>
<text transform="translate(490.2,382.90) scale(1.035,1)" font-size="13.2" font-family='"Noto Sans CJK JP", "Liberation Sans", sans-serif' fill="#fff" text-anchor="middle" stroke="#fff" stroke-width="0.2" >7</text>
<text transform="translate(533.75,382.90) scale(1.035,1)" font-size="13.2" font-family='"Noto Sans CJK JP", "Liberation Sans", sans-serif' fill="#fff" stroke="#fff" stroke-width="0.2" >SW</text>
<text transform="translate(566.2,382.90) scale(1.035,1)" font-size="13.2" font-family='"Noto Sans CJK JP", "Liberation Sans", sans-serif' fill="#fff" text-anchor="end" stroke="#fff" stroke-width="0.2" >3</text>
<text transform="translate(592,382.90) scale(1.035,1)" font-size="13.2" font-family='"Noto Sans CJK JP", "Liberation Sans", sans-serif' fill="#fff" textLength="31.30" lengthAdjust="spacingAndGlyphs" stroke="#fff" stroke-width="0.2" >TX 20</text>
<text transform="translate(659,382.90) scale(1.035,1)" font-size="13.2" font-family='"Noto Sans CJK JP", "Liberation Sans", sans-serif' fill="#fff" stroke="#fff" stroke-width="0.2" >E</text>
<text transform="translate(679,382.90) scale(1.035,1)" font-size="13.2" font-family='"Noto Sans CJK JP", "Liberation Sans", sans-serif' fill="#fff" text-anchor="end" stroke="#fff" stroke-width="0.2" >5</text>
<text transform="translate(728.6,382.90) scale(1.035,1)" font-size="13.2" font-family='"Noto Sans CJK JP", "Liberation Sans", sans-serif' fill="#fff" text-anchor="middle" stroke="#fff" stroke-width="0.2" >3</text>
<text transform="translate(418.3,399.90) scale(1.035,1)" font-size="13.2" font-family='"Noto Sans CJK JP", "Liberation Sans", sans-serif' fill="#fff" stroke="#fff" stroke-width="0.2" >M</text>
<text transform="translate(442.2,399.90) scale(1.035,1)" font-size="13.2" font-family='"Noto Sans CJK JP", "Liberation Sans", sans-serif' fill="#fff" text-anchor="end" stroke="#fff" stroke-width="0.2" >5</text>
<text transform="translate(490.2,399.90) scale(1.035,1)" font-size="13.2" font-family='"Noto Sans CJK JP", "Liberation Sans", sans-serif' fill="#fff" text-anchor="middle" stroke="#fff" stroke-width="0.2" >8</text>
<text transform="translate(533.75,399.90) scale(1.035,1)" font-size="13.2" font-family='"Noto Sans CJK JP", "Liberation Sans", sans-serif' fill="#fff" stroke="#fff" stroke-width="0.2" >SW</text>
<text transform="translate(566.2,399.90) scale(1.035,1)" font-size="13.2" font-family='"Noto Sans CJK JP", "Liberation Sans", sans-serif' fill="#fff" text-anchor="end" stroke="#fff" stroke-width="0.2" >4</text>
<text transform="translate(592,399.90) scale(1.035,1)" font-size="13.2" font-family='"Noto Sans CJK JP", "Liberation Sans", sans-serif' fill="#fff" textLength="31.30" lengthAdjust="spacingAndGlyphs" stroke="#fff" stroke-width="0.2" >TX 25</text>
<text transform="translate(659,399.90) scale(1.035,1)" font-size="13.2" font-family='"Noto Sans CJK JP", "Liberation Sans", sans-serif' fill="#fff" stroke="#fff" stroke-width="0.2" >E</text>
<text transform="translate(679,399.90) scale(1.035,1)" font-size="13.2" font-family='"Noto Sans CJK JP", "Liberation Sans", sans-serif' fill="#fff" text-anchor="end" stroke="#fff" stroke-width="0.2" >6</text>
<text transform="translate(728.6,399.90) scale(1.035,1)" font-size="13.2" font-family='"Noto Sans CJK JP", "Liberation Sans", sans-serif' fill="#fff" text-anchor="middle" stroke="#fff" stroke-width="0.2" >5,9</text>
<text transform="translate(411.25,416.90) scale(1.035,1)" font-size="13.2" font-family='"Noto Sans CJK JP", "Liberation Sans", sans-serif' fill="#fff" stroke="#fff" stroke-width="0.2" >4,5 -</text>
<text transform="translate(450,416.90) scale(1.035,1)" font-size="13.2" font-family='"Noto Sans CJK JP", "Liberation Sans", sans-serif' fill="#fff" text-anchor="end" stroke="#fff" stroke-width="0.2" >6</text>
<text transform="translate(592,416.90) scale(1.035,1)" font-size="13.2" font-family='"Noto Sans CJK JP", "Liberation Sans", sans-serif' fill="#fff" textLength="31.30" lengthAdjust="spacingAndGlyphs" stroke="#fff" stroke-width="0.2" >TX 27</text>
<text transform="translate(418.3,433.90) scale(1.035,1)" font-size="13.2" font-family='"Noto Sans CJK JP", "Liberation Sans", sans-serif' fill="#fff" stroke="#fff" stroke-width="0.2" >M</text>
<text transform="translate(442.2,433.90) scale(1.035,1)" font-size="13.2" font-family='"Noto Sans CJK JP", "Liberation Sans", sans-serif' fill="#fff" text-anchor="end" stroke="#fff" stroke-width="0.2" >6</text>
<text transform="translate(490.2,433.90) scale(1.035,1)" font-size="13.2" font-family='"Noto Sans CJK JP", "Liberation Sans", sans-serif' fill="#fff" text-anchor="middle" stroke="#fff" stroke-width="0.2" >10</text>
<text transform="translate(533.75,433.90) scale(1.035,1)" font-size="13.2" font-family='"Noto Sans CJK JP", "Liberation Sans", sans-serif' fill="#fff" stroke="#fff" stroke-width="0.2" >SW</text>
<text transform="translate(566.2,433.90) scale(1.035,1)" font-size="13.2" font-family='"Noto Sans CJK JP", "Liberation Sans", sans-serif' fill="#fff" text-anchor="end" stroke="#fff" stroke-width="0.2" >5</text>
<text transform="translate(592,433.90) scale(1.035,1)" font-size="13.2" font-family='"Noto Sans CJK JP", "Liberation Sans", sans-serif' fill="#fff" textLength="31.30" lengthAdjust="spacingAndGlyphs" stroke="#fff" stroke-width="0.2" >TX 30</text>
<text transform="translate(659,433.90) scale(1.035,1)" font-size="13.2" font-family='"Noto Sans CJK JP", "Liberation Sans", sans-serif' fill="#fff" stroke="#fff" stroke-width="0.2" >E</text>
<text transform="translate(679,433.90) scale(1.035,1)" font-size="13.2" font-family='"Noto Sans CJK JP", "Liberation Sans", sans-serif' fill="#fff" text-anchor="end" stroke="#fff" stroke-width="0.2" >8</text>
<text transform="translate(728.6,433.90) scale(1.035,1)" font-size="13.2" font-family='"Noto Sans CJK JP", "Liberation Sans", sans-serif' fill="#fff" text-anchor="middle" stroke="#fff" stroke-width="0.2" >10</text>
<text transform="translate(429.75,450.90) scale(1.035,1)" font-size="13.2" font-family='"Noto Sans CJK JP", "Liberation Sans", sans-serif' fill="#fff" text-anchor="middle" stroke="#fff" stroke-width="0.2" >(M 7)</text>
<text transform="translate(490.2,450.90) scale(1.035,1)" font-size="13.2" font-family='"Noto Sans CJK JP", "Liberation Sans", sans-serif' fill="#fff" text-anchor="middle" stroke="#fff" stroke-width="0.2" >11</text>
<text transform="translate(550,450.90) scale(1.035,1)" font-size="13.2" font-family='"Noto Sans CJK JP", "Liberation Sans", sans-serif' fill="#fff" text-anchor="middle" stroke="#fff" stroke-width="0.2" >-</text>
<text transform="translate(592,450.90) scale(1.035,1)" font-size="13.2" font-family='"Noto Sans CJK JP", "Liberation Sans", sans-serif' fill="#fff" textLength="31.30" lengthAdjust="spacingAndGlyphs" stroke="#fff" stroke-width="0.2" >TX 40</text>
<text transform="translate(728.6,450.90) scale(1.035,1)" font-size="13.2" font-family='"Noto Sans CJK JP", "Liberation Sans", sans-serif' fill="#fff" text-anchor="middle" stroke="#fff" stroke-width="0.2" >-</text>
<text transform="translate(418.3,467.90) scale(1.035,1)" font-size="13.2" font-family='"Noto Sans CJK JP", "Liberation Sans", sans-serif' fill="#fff" stroke="#fff" stroke-width="0.2" >M</text>
<text transform="translate(442.2,467.90) scale(1.035,1)" font-size="13.2" font-family='"Noto Sans CJK JP", "Liberation Sans", sans-serif' fill="#fff" text-anchor="end" stroke="#fff" stroke-width="0.2" >8</text>
<text transform="translate(490.2,467.90) scale(1.035,1)" font-size="13.2" font-family='"Noto Sans CJK JP", "Liberation Sans", sans-serif' fill="#fff" text-anchor="middle" stroke="#fff" stroke-width="0.2" >13</text>
<text transform="translate(533.75,467.90) scale(1.035,1)" font-size="13.2" font-family='"Noto Sans CJK JP", "Liberation Sans", sans-serif' fill="#fff" stroke="#fff" stroke-width="0.2" >SW</text>
<text transform="translate(566.2,467.90) scale(1.035,1)" font-size="13.2" font-family='"Noto Sans CJK JP", "Liberation Sans", sans-serif' fill="#fff" text-anchor="end" stroke="#fff" stroke-width="0.2" >6</text>
<text transform="translate(592,467.90) scale(1.035,1)" font-size="13.2" font-family='"Noto Sans CJK JP", "Liberation Sans", sans-serif' fill="#fff" textLength="31.30" lengthAdjust="spacingAndGlyphs" stroke="#fff" stroke-width="0.2" >TX 40</text>
<text transform="translate(654.6,467.90) scale(1.035,1)" font-size="13.2" font-family='"Noto Sans CJK JP", "Liberation Sans", sans-serif' fill="#fff" textLength="24.15" lengthAdjust="spacingAndGlyphs" stroke="#fff" stroke-width="0.2" >E 10</text>
<text transform="translate(728.6,467.90) scale(1.035,1)" font-size="13.2" font-family='"Noto Sans CJK JP", "Liberation Sans", sans-serif' fill="#fff" text-anchor="middle" stroke="#fff" stroke-width="0.2" >25</text>
<text transform="translate(429.6,484.90) scale(1.035,1)" font-size="13.2" font-family='"Noto Sans CJK JP", "Liberation Sans", sans-serif' fill="#fff" text-anchor="middle" stroke="#fff" stroke-width="0.2" >8-10</text>
<text transform="translate(592,484.90) scale(1.035,1)" font-size="13.2" font-family='"Noto Sans CJK JP", "Liberation Sans", sans-serif' fill="#fff" textLength="31.30" lengthAdjust="spacingAndGlyphs" stroke="#fff" stroke-width="0.2" >TX 45</text>
<text transform="translate(429.5,501.90) scale(1.035,1)" font-size="13.2" font-family='"Noto Sans CJK JP", "Liberation Sans", sans-serif' fill="#fff" text-anchor="middle" stroke="#fff" stroke-width="0.2" >M 10</text>
<text transform="translate(488.5,501.90) scale(1.035,1)" font-size="13.2" font-family='"Noto Sans CJK JP", "Liberation Sans", sans-serif' fill="#fff" text-anchor="middle" textLength="37.68" lengthAdjust="spacingAndGlyphs" stroke="#fff" stroke-width="0.2" >(16) 17</text>
<text transform="translate(533.75,501.90) scale(1.035,1)" font-size="13.2" font-family='"Noto Sans CJK JP", "Liberation Sans", sans-serif' fill="#fff" stroke="#fff" stroke-width="0.2" >SW</text>
<text transform="translate(566.2,501.90) scale(1.035,1)" font-size="13.2" font-family='"Noto Sans CJK JP", "Liberation Sans", sans-serif' fill="#fff" text-anchor="end" stroke="#fff" stroke-width="0.2" >8</text>
<text transform="translate(592,501.90) scale(1.035,1)" font-size="13.2" font-family='"Noto Sans CJK JP", "Liberation Sans", sans-serif' fill="#fff" textLength="31.30" lengthAdjust="spacingAndGlyphs" stroke="#fff" stroke-width="0.2" >TX 50</text>
<text transform="translate(654.6,501.90) scale(1.035,1)" font-size="13.2" font-family='"Noto Sans CJK JP", "Liberation Sans", sans-serif' fill="#fff" textLength="24.15" lengthAdjust="spacingAndGlyphs" stroke="#fff" stroke-width="0.2" >E 12</text>
<text transform="translate(728.6,501.90) scale(1.035,1)" font-size="13.2" font-family='"Noto Sans CJK JP", "Liberation Sans", sans-serif' fill="#fff" text-anchor="middle" stroke="#fff" stroke-width="0.2" >49</text>
<text transform="translate(429.5,518.90) scale(1.035,1)" font-size="13.2" font-family='"Noto Sans CJK JP", "Liberation Sans", sans-serif' fill="#fff" text-anchor="middle" stroke="#fff" stroke-width="0.2" >M 12</text>
<text transform="translate(488.7,518.90) scale(1.035,1)" font-size="13.2" font-family='"Noto Sans CJK JP", "Liberation Sans", sans-serif' fill="#fff" text-anchor="middle" textLength="37.68" lengthAdjust="spacingAndGlyphs" stroke="#fff" stroke-width="0.2" >(18) 19</text>
<text transform="translate(529.0,518.90) scale(1.035,1)" font-size="13.2" font-family='"Noto Sans CJK JP", "Liberation Sans", sans-serif' fill="#fff" textLength="35.17" lengthAdjust="spacingAndGlyphs" stroke="#fff" stroke-width="0.2" >SW 10</text>
<text transform="translate(592,518.90) scale(1.035,1)" font-size="13.2" font-family='"Noto Sans CJK JP", "Liberation Sans", sans-serif' fill="#fff" textLength="31.30" lengthAdjust="spacingAndGlyphs" stroke="#fff" stroke-width="0.2" >TX 55</text>
<text transform="translate(654.6,518.90) scale(1.035,1)" font-size="13.2" font-family='"Noto Sans CJK JP", "Liberation Sans", sans-serif' fill="#fff" textLength="24.15" lengthAdjust="spacingAndGlyphs" stroke="#fff" stroke-width="0.2" >E 14</text>
<text transform="translate(728.6,518.90) scale(1.035,1)" font-size="13.2" font-family='"Noto Sans CJK JP", "Liberation Sans", sans-serif' fill="#fff" text-anchor="middle" stroke="#fff" stroke-width="0.2" >85</text>
<text transform="translate(429.1,535.90) scale(1.035,1)" font-size="13.2" font-family='"Noto Sans CJK JP", "Liberation Sans", sans-serif' fill="#fff" text-anchor="middle" stroke="#fff" stroke-width="0.2" >(M 14)</text>
<text transform="translate(488.7,535.90) scale(1.035,1)" font-size="13.2" font-family='"Noto Sans CJK JP", "Liberation Sans", sans-serif' fill="#fff" text-anchor="middle" textLength="37.68" lengthAdjust="spacingAndGlyphs" stroke="#fff" stroke-width="0.2" >(21) 22</text>
<text transform="translate(529.0,535.90) scale(1.035,1)" font-size="13.2" font-family='"Noto Sans CJK JP", "Liberation Sans", sans-serif' fill="#fff" textLength="35.17" lengthAdjust="spacingAndGlyphs" stroke="#fff" stroke-width="0.2" >SW 12</text>
<text transform="translate(592,535.90) scale(1.035,1)" font-size="13.2" font-family='"Noto Sans CJK JP", "Liberation Sans", sans-serif' fill="#fff" textLength="31.30" lengthAdjust="spacingAndGlyphs" stroke="#fff" stroke-width="0.2" >TX 60</text>
<text transform="translate(654.6,535.90) scale(1.035,1)" font-size="13.2" font-family='"Noto Sans CJK JP", "Liberation Sans", sans-serif' fill="#fff" textLength="24.15" lengthAdjust="spacingAndGlyphs" stroke="#fff" stroke-width="0.2" >E 18</text>
<text transform="translate(728.6,535.90) scale(1.035,1)" font-size="13.2" font-family='"Noto Sans CJK JP", "Liberation Sans", sans-serif' fill="#fff" text-anchor="middle" stroke="#fff" stroke-width="0.2" >135</text>
<text transform="translate(429.5,552.90) scale(1.035,1)" font-size="13.2" font-family='"Noto Sans CJK JP", "Liberation Sans", sans-serif' fill="#fff" text-anchor="middle" stroke="#fff" stroke-width="0.2" >M 16</text>
<text transform="translate(490.2,552.90) scale(1.035,1)" font-size="13.2" font-family='"Noto Sans CJK JP", "Liberation Sans", sans-serif' fill="#fff" text-anchor="middle" stroke="#fff" stroke-width="0.2" >24</text>
<text transform="translate(529.0,552.90) scale(1.035,1)" font-size="13.2" font-family='"Noto Sans CJK JP", "Liberation Sans", sans-serif' fill="#fff" textLength="35.17" lengthAdjust="spacingAndGlyphs" stroke="#fff" stroke-width="0.2" >SW 14</text>
<text transform="translate(592,552.90) scale(1.035,1)" font-size="13.2" font-family='"Noto Sans CJK JP", "Liberation Sans", sans-serif' fill="#fff" textLength="31.30" lengthAdjust="spacingAndGlyphs" stroke="#fff" stroke-width="0.2" >TX 70</text>
<text transform="translate(654.6,552.90) scale(1.035,1)" font-size="13.2" font-family='"Noto Sans CJK JP", "Liberation Sans", sans-serif' fill="#fff" textLength="24.15" lengthAdjust="spacingAndGlyphs" stroke="#fff" stroke-width="0.2" >E 20</text>
<text transform="translate(728.6,552.90) scale(1.035,1)" font-size="13.2" font-family='"Noto Sans CJK JP", "Liberation Sans", sans-serif' fill="#fff" text-anchor="middle" stroke="#fff" stroke-width="0.2" >210</text>
<text transform="translate(429.1,569.90) scale(1.035,1)" font-size="13.2" font-family='"Noto Sans CJK JP", "Liberation Sans", sans-serif' fill="#fff" text-anchor="middle" stroke="#fff" stroke-width="0.2" >(M 18)</text>
<text transform="translate(490.2,569.90) scale(1.035,1)" font-size="13.2" font-family='"Noto Sans CJK JP", "Liberation Sans", sans-serif' fill="#fff" text-anchor="middle" stroke="#fff" stroke-width="0.2" >27</text>
<text transform="translate(529.0,569.90) scale(1.035,1)" font-size="13.2" font-family='"Noto Sans CJK JP", "Liberation Sans", sans-serif' fill="#fff" textLength="35.17" lengthAdjust="spacingAndGlyphs" stroke="#fff" stroke-width="0.2" >SW 14</text>
<text transform="translate(592,569.90) scale(1.035,1)" font-size="13.2" font-family='"Noto Sans CJK JP", "Liberation Sans", sans-serif' fill="#fff" textLength="31.30" lengthAdjust="spacingAndGlyphs" stroke="#fff" stroke-width="0.2" >TX 80</text>
<text transform="translate(654.6,569.90) scale(1.035,1)" font-size="13.2" font-family='"Noto Sans CJK JP", "Liberation Sans", sans-serif' fill="#fff" textLength="24.15" lengthAdjust="spacingAndGlyphs" stroke="#fff" stroke-width="0.2" >E 24</text>
<text transform="translate(728.6,569.90) scale(1.035,1)" font-size="13.2" font-family='"Noto Sans CJK JP", "Liberation Sans", sans-serif' fill="#fff" text-anchor="middle" stroke="#fff" stroke-width="0.2" >300</text>
<text transform="translate(429.5,586.90) scale(1.035,1)" font-size="13.2" font-family='"Noto Sans CJK JP", "Liberation Sans", sans-serif' fill="#fff" text-anchor="middle" stroke="#fff" stroke-width="0.2" >M 20</text>
<text transform="translate(490.2,586.90) scale(1.035,1)" font-size="13.2" font-family='"Noto Sans CJK JP", "Liberation Sans", sans-serif' fill="#fff" text-anchor="middle" stroke="#fff" stroke-width="0.2" >30</text>
<text transform="translate(529.0,586.90) scale(1.035,1)" font-size="13.2" font-family='"Noto Sans CJK JP", "Liberation Sans", sans-serif' fill="#fff" textLength="35.17" lengthAdjust="spacingAndGlyphs" stroke="#fff" stroke-width="0.2" >SW 17</text>
<text transform="translate(592,586.90) scale(1.035,1)" font-size="13.2" font-family='"Noto Sans CJK JP", "Liberation Sans", sans-serif' fill="#fff" textLength="31.30" lengthAdjust="spacingAndGlyphs" stroke="#fff" stroke-width="0.2" >TX 90</text>
<text transform="translate(654.6,586.90) scale(1.035,1)" font-size="13.2" font-family='"Noto Sans CJK JP", "Liberation Sans", sans-serif' fill="#fff" textLength="24.15" lengthAdjust="spacingAndGlyphs" stroke="#fff" stroke-width="0.2" >E 24</text>
<text transform="translate(728.6,586.90) scale(1.035,1)" font-size="13.2" font-family='"Noto Sans CJK JP", "Liberation Sans", sans-serif' fill="#fff" text-anchor="middle" stroke="#fff" stroke-width="0.2" >425</text>
<text transform="translate(429.1,603.90) scale(1.035,1)" font-size="13.2" font-family='"Noto Sans CJK JP", "Liberation Sans", sans-serif' fill="#fff" text-anchor="middle" stroke="#fff" stroke-width="0.2" >(M 22)</text>
<text transform="translate(488.7,603.90) scale(1.035,1)" font-size="13.2" font-family='"Noto Sans CJK JP", "Liberation Sans", sans-serif' fill="#fff" text-anchor="middle" textLength="37.68" lengthAdjust="spacingAndGlyphs" stroke="#fff" stroke-width="0.2" >(34) 32</text>
<text transform="translate(550,603.90) scale(1.035,1)" font-size="13.2" font-family='"Noto Sans CJK JP", "Liberation Sans", sans-serif' fill="#fff" text-anchor="middle" stroke="#fff" stroke-width="0.2" >-</text>
<text transform="translate(728.6,603.90) scale(1.035,1)" font-size="13.2" font-family='"Noto Sans CJK JP", "Liberation Sans", sans-serif' fill="#fff" text-anchor="middle" stroke="#fff" stroke-width="0.2" >580</text>
<text transform="translate(429.5,620.90) scale(1.035,1)" font-size="13.2" font-family='"Noto Sans CJK JP", "Liberation Sans", sans-serif' fill="#fff" text-anchor="middle" stroke="#fff" stroke-width="0.2" >M 24</text>
<text transform="translate(490.2,620.90) scale(1.035,1)" font-size="13.2" font-family='"Noto Sans CJK JP", "Liberation Sans", sans-serif' fill="#fff" text-anchor="middle" stroke="#fff" stroke-width="0.2" >36</text>
<text transform="translate(529.0,620.90) scale(1.035,1)" font-size="13.2" font-family='"Noto Sans CJK JP", "Liberation Sans", sans-serif' fill="#fff" textLength="35.17" lengthAdjust="spacingAndGlyphs" stroke="#fff" stroke-width="0.2" >SW 19</text>
<text transform="translate(728.6,620.90) scale(1.035,1)" font-size="13.2" font-family='"Noto Sans CJK JP", "Liberation Sans", sans-serif' fill="#fff" text-anchor="middle" stroke="#fff" stroke-width="0.2" >740</text>
<text x="406.6" y="670" font-size="12.8" font-family='"Noto Sans CJK JP", "Liberation Sans", sans-serif' fill="#f4f4f4" textLength="90.20" lengthAdjust="spacingAndGlyphs" stroke="#f4f4f4" stroke-width="0.1" >© by PROXXON</text>
<g transform="translate(604.5,641) scale(1.0000,1.0000)">
<rect x="0" y="0" width="157.5" height="40" fill="#f6b414"/>
<path d="M7.1 15.25 H157.5 V19.6 H40.25 L25.9 40 H0 V25.1 Z" fill="#6f8f22"/>
<path d="M14.0 15.25 L0.4 34.0" stroke="#f6b414" stroke-width="1.4" fill="none"/>
<path d="M22.1 15.25 L4.2 40" stroke="#f6b414" stroke-width="1.4" fill="none"/>
<path d="M30.25 15.25 L12.35 40" stroke="#f6b414" stroke-width="1.4" fill="none"/>
<text x="15.6" y="12.3" font-size="11.6" font-family='"Liberation Sans", sans-serif' font-weight="bold" fill="#111" stroke="#111" stroke-width="2.2" stroke-linejoin="round" textLength="62.6" lengthAdjust="spacingAndGlyphs" transform="translate(0.6,0.6)">PROXXON</text>
<text x="15.6" y="12.3" font-size="11.6" font-family='"Liberation Sans", sans-serif' font-weight="bold" fill="#fff" stroke="#fff" stroke-width="0.3" textLength="62.6" lengthAdjust="spacingAndGlyphs">PROXXON</text>
<text x="41.6" y="33.4" font-size="12.7" font-family='"Liberation Sans", sans-serif' font-weight="bold" fill="#15130c" stroke="#15130c" stroke-width="0.95" textLength="96.6" lengthAdjust="spacingAndGlyphs">INDUSTRIAL</text>
</g>
</g>
</svg>
</body></html>
